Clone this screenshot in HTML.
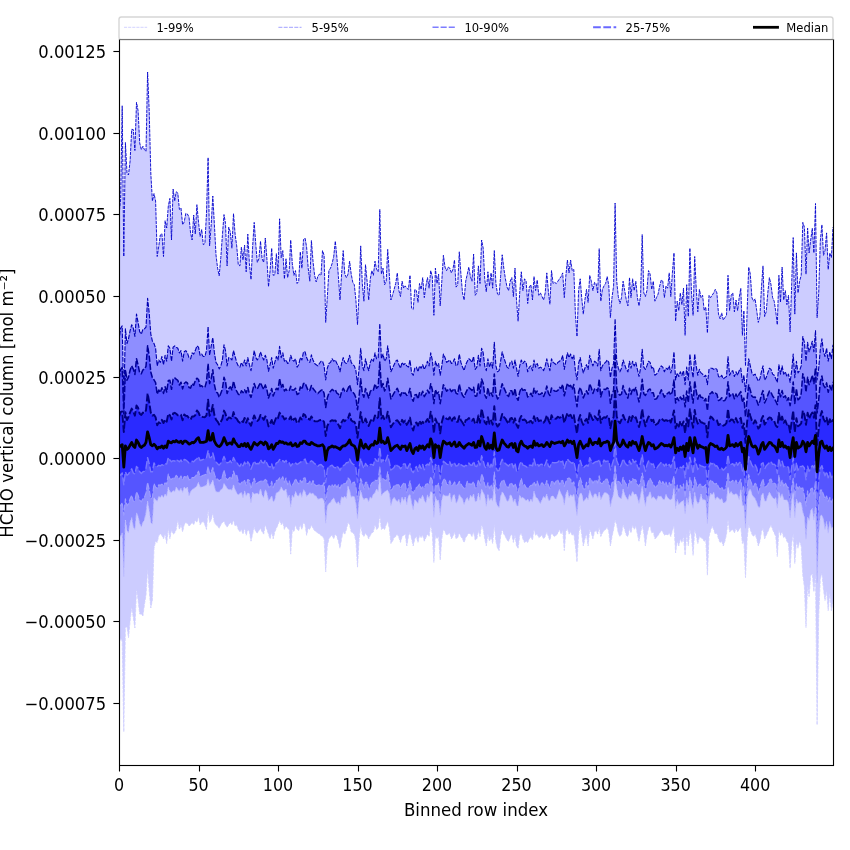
<!DOCTYPE html>
<html lang="en"><head><meta charset="utf-8"><title>HCHO vertical column percentiles</title>
<style>html,body{margin:0;padding:0;background:#fff;width:850px;height:850px;overflow:hidden}svg text{white-space:pre}</style>
</head><body>
<svg width="850" height="850" viewBox="0 0 850 850" style="display:block">
<rect width="850" height="850" fill="#fff"/>
<defs><clipPath id="c"><rect x="119.5" y="39.5" width="714.00" height="726.00"/></clipPath></defs>
<g clip-path="url(#c)" fill="none" stroke-linejoin="round">
<polygon points="119.0,215.0 120.6,200.0 122.2,105.8 123.8,256.5 125.4,142.5 127.0,173.0 128.5,175.0 130.1,161.0 131.7,129.3 133.3,129.6 134.9,150.5 136.5,102.4 138.1,110.8 139.7,143.0 141.3,149.5 142.9,146.3 144.4,149.5 146.0,151.4 147.6,72.0 149.2,111.0 150.8,173.0 152.4,201.0 154.0,193.6 155.6,201.0 157.2,256.5 158.8,246.0 160.3,235.0 161.9,233.6 163.5,256.5 165.1,220.7 166.7,228.0 168.3,206.0 169.9,198.4 171.5,240.0 173.1,189.0 174.7,201.0 176.2,191.8 177.8,193.0 179.4,209.4 181.0,208.0 182.6,224.7 184.2,222.0 185.8,213.4 187.4,214.0 189.0,217.0 190.6,233.0 192.1,240.0 193.7,215.0 195.3,234.0 196.9,204.7 198.5,222.0 200.1,236.5 201.7,229.4 203.3,244.7 204.9,243.5 206.5,213.0 208.1,157.6 209.6,245.9 211.2,224.7 212.8,196.0 214.4,224.7 216.0,255.0 217.6,268.2 219.2,275.8 220.8,257.6 222.4,235.3 224.0,214.6 225.5,223.5 227.1,265.9 228.7,227.1 230.3,231.8 231.9,248.2 233.5,213.6 235.1,234.1 236.7,245.9 238.3,264.7 239.9,265.9 241.4,247.1 243.0,260.0 244.6,245.2 246.2,271.8 247.8,234.1 249.4,263.5 251.0,279.5 252.6,247.1 254.2,222.4 255.8,244.7 257.3,262.4 258.9,258.8 260.5,241.2 262.1,258.8 263.7,262.4 265.3,238.1 266.9,258.8 268.5,286.6 270.1,270.6 271.7,248.2 273.2,275.3 274.8,274.8 276.4,253.6 278.0,274.1 279.6,218.8 281.2,257.6 282.8,250.6 284.4,278.8 286.0,258.8 287.6,277.6 289.2,270.6 290.7,240.0 292.3,263.5 293.9,275.3 295.5,270.6 297.1,283.5 298.7,281.2 300.3,251.8 301.9,268.2 303.5,239.5 305.1,238.1 306.6,247.1 308.2,268.2 309.8,281.2 311.4,240.5 313.0,261.2 314.6,275.3 316.2,281.9 317.8,276.5 319.4,274.1 321.0,275.3 322.5,250.6 324.1,255.3 325.7,322.4 327.3,297.6 328.9,270.6 330.5,268.2 332.1,263.5 333.7,256.5 335.3,241.2 336.9,257.6 338.4,276.5 340.0,300.0 341.6,274.1 343.2,250.6 344.8,274.1 346.4,277.6 348.0,274.1 349.6,261.2 351.2,274.1 352.8,282.4 354.3,284.7 355.9,300.0 357.5,324.7 359.1,292.9 360.7,245.9 362.3,283.5 363.9,301.2 365.5,264.7 367.1,281.2 368.7,300.0 370.3,278.8 371.8,270.6 373.4,275.3 375.0,261.2 376.6,269.4 378.2,271.8 379.8,209.4 381.4,274.1 383.0,268.2 384.6,284.7 386.2,281.2 387.7,249.4 389.3,274.1 390.9,300.0 392.5,295.3 394.1,289.4 395.7,283.5 397.3,272.9 398.9,290.6 400.5,296.5 402.1,281.2 403.6,288.2 405.2,285.9 406.8,288.2 408.4,289.4 410.0,275.3 411.6,308.2 413.2,309.4 414.8,289.4 416.4,290.6 418.0,302.4 419.5,283.5 421.1,289.4 422.7,277.6 424.3,297.6 425.9,285.9 427.5,277.6 429.1,288.2 430.7,270.6 432.3,276.5 433.9,315.3 435.4,268.2 437.0,283.5 438.6,274.1 440.2,305.9 441.8,281.2 443.4,255.3 445.0,267.1 446.6,270.6 448.2,267.1 449.8,268.2 451.4,272.9 452.9,269.4 454.5,260.0 456.1,287.1 457.7,284.7 459.3,251.8 460.9,274.1 462.5,292.9 464.1,300.0 465.7,281.2 467.3,274.1 468.8,267.1 470.4,276.5 472.0,281.2 473.6,254.1 475.2,295.3 476.8,292.9 478.4,265.9 480.0,283.5 481.6,240.0 483.2,248.2 484.7,278.8 486.3,291.8 487.9,271.8 489.5,285.9 491.1,272.9 492.7,288.2 494.3,250.6 495.9,283.5 497.5,294.1 499.1,295.3 500.6,276.5 502.2,254.8 503.8,268.2 505.4,278.8 507.0,287.1 508.6,290.6 510.2,281.2 511.8,277.6 513.4,296.5 515.0,268.2 516.5,300.0 518.1,321.2 519.7,292.9 521.3,271.8 522.9,290.6 524.5,278.8 526.1,281.2 527.7,303.5 529.3,287.1 530.9,284.7 532.5,300.0 534.0,276.5 535.6,290.6 537.2,280.0 538.8,295.3 540.4,292.9 542.0,296.5 543.6,300.0 545.2,292.9 546.8,272.9 548.4,291.8 549.9,304.2 551.5,270.6 553.1,283.5 554.7,282.4 556.3,283.5 557.9,281.2 559.5,278.8 561.1,276.5 562.7,272.9 564.3,297.6 565.8,276.5 567.4,260.0 569.0,272.9 570.6,260.0 572.2,270.6 573.8,269.4 575.4,314.1 577.0,336.5 578.6,290.6 580.2,278.8 581.7,297.6 583.3,314.1 584.9,300.0 586.5,289.4 588.1,302.4 589.7,275.3 591.3,281.2 592.9,290.6 594.5,282.4 596.1,283.5 597.7,292.9 599.2,248.7 600.8,301.2 602.4,289.4 604.0,285.9 605.6,283.5 607.2,276.5 608.8,285.9 610.4,317.6 612.0,297.6 613.6,285.9 615.1,203.1 616.7,281.2 618.3,296.5 619.9,303.5 621.5,297.6 623.1,281.2 624.7,290.6 626.3,300.0 627.9,305.9 629.5,277.6 631.0,297.6 632.6,278.8 634.2,290.6 635.8,281.2 637.4,297.6 639.0,305.9 640.6,295.3 642.2,234.6 643.8,292.9 645.4,296.5 646.9,290.6 648.5,270.6 650.1,274.1 651.7,289.4 653.3,281.2 654.9,301.2 656.5,297.6 658.1,294.1 659.7,285.9 661.3,280.0 662.8,281.2 664.4,297.6 666.0,285.9 667.6,288.2 669.2,272.9 670.8,296.5 672.4,272.9 674.0,252.9 675.6,321.2 677.2,301.2 678.8,310.6 680.3,292.9 681.9,304.7 683.5,288.2 685.1,335.3 686.7,284.7 688.3,316.5 689.9,248.2 691.5,292.9 693.1,315.3 694.7,256.5 696.2,288.2 697.8,311.8 699.4,289.4 701.0,297.6 702.6,295.3 704.2,310.6 705.8,307.1 707.4,332.9 709.0,295.3 710.6,297.6 712.1,295.3 713.7,292.9 715.3,289.4 716.9,292.9 718.5,314.1 720.1,318.8 721.7,312.9 723.3,320.0 724.9,317.6 726.5,315.3 728.0,275.3 729.6,310.6 731.2,295.3 732.8,292.9 734.4,311.8 736.0,300.0 737.6,310.6 739.2,297.6 740.8,288.2 742.4,335.3 743.9,310.6 745.5,365.9 747.1,311.8 748.7,267.1 750.3,274.1 751.9,297.6 753.5,301.2 755.1,298.8 756.7,310.6 758.3,322.4 759.9,316.5 761.4,288.2 763.0,265.9 764.6,316.5 766.2,311.8 767.8,292.9 769.4,277.6 771.0,284.7 772.6,297.6 774.2,301.2 775.8,311.8 777.3,324.7 778.9,275.3 780.5,302.4 782.1,267.1 783.7,300.0 785.3,290.6 786.9,304.7 788.5,295.3 790.1,331.8 791.7,283.5 793.2,237.6 794.8,314.1 796.4,252.9 798.0,292.9 799.6,281.2 801.2,275.3 802.8,222.4 804.4,227.1 806.0,274.1 807.6,228.2 809.1,252.9 810.7,240.0 812.3,228.2 813.9,252.9 815.5,203.5 817.1,317.6 818.7,292.9 820.3,241.2 821.9,224.7 823.5,255.3 825.0,250.6 826.6,232.9 828.2,269.4 829.8,252.9 831.4,257.6 833.0,227.1 833.0,600.9 831.4,610.6 829.8,592.9 828.2,610.6 826.6,590.6 825.0,600.5 823.5,589.4 821.9,572.9 820.3,578.8 818.7,616.0 817.1,724.9 815.5,575.1 813.9,591.8 812.3,574.1 810.7,575.1 809.1,596.5 807.6,584.9 806.0,627.5 804.4,587.1 802.8,575.1 801.2,545.9 799.6,541.2 798.0,548.2 796.4,541.2 794.8,563.5 793.2,534.1 791.7,543.5 790.1,568.2 788.5,543.5 786.9,541.2 785.3,536.5 783.7,537.6 782.1,531.8 780.5,535.3 778.9,529.4 777.3,556.5 775.8,536.5 774.2,532.9 772.6,529.4 771.0,524.7 769.4,528.2 767.8,531.8 766.2,535.3 764.6,538.8 763.0,528.2 761.4,531.8 759.9,541.2 758.3,545.9 756.7,538.8 755.1,534.1 753.5,536.5 751.9,534.1 750.3,529.4 748.7,524.7 747.1,538.8 745.5,577.6 743.9,541.2 742.4,543.5 740.8,527.1 739.2,529.4 737.6,531.8 736.0,528.2 734.4,532.9 732.8,529.4 731.2,530.6 729.6,531.8 728.0,520.0 726.5,534.1 724.9,541.2 723.3,545.9 721.7,541.2 720.1,542.4 718.5,538.8 716.9,532.9 715.3,534.1 713.7,529.4 712.1,525.9 710.6,530.6 709.0,536.5 707.4,575.1 705.8,540.0 704.2,541.2 702.6,538.8 701.0,537.6 699.4,536.5 697.8,543.5 696.2,535.3 694.7,529.4 693.1,555.3 691.5,536.5 689.9,529.4 688.3,545.9 686.7,534.1 685.1,555.3 683.5,536.5 681.9,542.4 680.3,538.8 678.8,545.9 677.2,541.2 675.6,552.9 674.0,525.9 672.4,530.6 670.8,536.5 669.2,532.9 667.6,535.3 666.0,534.1 664.4,535.3 662.8,531.8 661.3,530.6 659.7,532.9 658.1,535.3 656.5,537.6 654.9,538.8 653.3,531.8 651.7,532.9 650.1,525.9 648.5,528.2 646.9,535.3 645.4,545.9 643.8,532.9 642.2,524.7 640.6,532.9 639.0,541.2 637.4,534.1 635.8,525.9 634.2,529.4 632.6,524.7 631.0,532.9 629.5,528.2 627.9,536.5 626.3,535.3 624.7,529.4 623.1,524.7 621.5,534.1 619.9,536.5 618.3,532.9 616.7,524.7 615.1,520.0 613.6,529.4 612.0,536.5 610.4,545.9 608.8,531.8 607.2,527.1 605.6,529.4 604.0,530.6 602.4,532.9 600.8,536.5 599.2,527.1 597.7,534.1 596.1,530.6 594.5,531.8 592.9,538.8 591.3,532.9 589.7,529.4 588.1,545.9 586.5,534.1 584.9,538.8 583.3,545.9 581.7,534.1 580.2,524.7 578.6,534.1 577.0,561.9 575.4,545.9 573.8,534.1 572.2,535.3 570.6,531.8 569.0,534.1 567.4,528.2 565.8,531.8 564.3,550.6 562.7,530.6 561.1,534.1 559.5,529.4 557.9,532.9 556.3,535.3 554.7,536.5 553.1,535.3 551.5,532.9 549.9,540.0 548.4,536.5 546.8,531.8 545.2,536.5 543.6,538.8 542.0,535.3 540.4,536.5 538.8,537.6 537.2,534.1 535.6,535.3 534.0,529.4 532.5,540.0 530.9,536.5 529.3,538.8 527.7,542.4 526.1,541.2 524.5,542.4 522.9,538.8 521.3,532.9 519.7,535.3 518.1,548.2 516.5,545.9 515.0,535.3 513.4,542.4 511.8,534.1 510.2,536.5 508.6,541.2 507.0,540.0 505.4,536.5 503.8,534.1 502.2,529.4 500.6,536.5 499.1,550.6 497.5,548.2 495.9,541.2 494.3,524.7 492.7,543.5 491.1,536.5 489.5,541.2 487.9,534.1 486.3,545.9 484.7,538.8 483.2,529.4 481.6,524.7 480.0,536.5 478.4,530.6 476.8,538.8 475.2,540.0 473.6,531.8 472.0,536.5 470.4,534.1 468.8,532.9 467.3,535.3 465.7,537.6 464.1,542.4 462.5,538.8 460.9,536.5 459.3,532.9 457.7,537.6 456.1,538.8 454.5,531.8 452.9,536.5 451.4,538.8 449.8,532.9 448.2,534.1 446.6,535.3 445.0,531.8 443.4,529.4 441.8,538.8 440.2,560.0 438.6,536.5 437.0,538.8 435.4,535.3 433.9,562.4 432.3,534.1 430.7,524.7 429.1,536.5 427.5,534.1 425.9,537.6 424.3,541.2 422.7,535.3 421.1,537.6 419.5,535.3 418.0,542.4 416.4,536.5 414.8,538.8 413.2,545.9 411.6,538.8 410.0,531.8 408.4,536.5 406.8,545.9 405.2,534.1 403.6,535.3 402.1,536.5 400.5,542.4 398.9,537.6 397.3,534.1 395.7,536.5 394.1,537.6 392.5,541.2 390.9,543.5 389.3,528.2 387.7,521.2 386.2,524.7 384.6,529.4 383.0,528.2 381.4,529.4 379.8,515.3 378.2,528.2 376.6,529.4 375.0,524.7 373.4,531.8 371.8,532.9 370.3,535.3 368.7,538.8 367.1,535.3 365.5,532.9 363.9,536.5 362.3,534.1 360.7,524.7 359.1,538.8 357.5,567.1 355.9,541.2 354.3,534.1 352.8,532.9 351.2,531.8 349.6,524.7 348.0,522.4 346.4,529.4 344.8,534.1 343.2,531.8 341.6,538.8 340.0,548.2 338.4,541.2 336.9,536.5 335.3,534.1 333.7,538.8 332.1,535.3 330.5,536.5 328.9,538.8 327.3,545.9 325.7,571.8 324.1,538.8 322.5,536.5 321.0,535.3 319.4,534.1 317.8,532.9 316.2,531.8 314.6,530.6 313.0,528.2 311.4,524.7 309.8,529.4 308.2,528.2 306.6,535.3 305.1,524.7 303.5,522.4 301.9,529.4 300.3,524.7 298.7,530.6 297.1,529.4 295.5,524.7 293.9,531.8 292.3,529.4 290.7,554.1 289.2,529.4 287.6,528.2 286.0,525.9 284.4,529.4 282.8,522.4 281.2,524.7 279.6,520.0 278.0,524.7 276.4,528.2 274.8,531.8 273.2,538.8 271.7,531.8 270.1,538.8 268.5,534.1 266.9,529.4 265.3,524.7 263.7,534.1 262.1,531.8 260.5,528.2 258.9,530.6 257.3,532.9 255.8,531.8 254.2,527.1 252.6,534.1 251.0,541.2 249.4,531.8 247.8,529.4 246.2,535.3 244.6,528.2 243.0,534.1 241.4,529.4 239.9,531.8 238.3,529.4 236.7,524.7 235.1,525.9 233.5,520.0 231.9,524.7 230.3,522.4 228.7,524.7 227.1,527.1 225.5,524.7 224.0,521.2 222.4,522.4 220.8,524.7 219.2,528.2 217.6,525.9 216.0,524.7 214.4,522.4 212.8,512.9 211.2,520.0 209.6,522.4 208.1,509.4 206.5,529.4 204.9,524.7 203.3,521.2 201.7,522.4 200.1,524.7 198.5,516.5 196.9,522.4 195.3,520.0 193.7,524.7 192.1,522.4 190.6,524.7 189.0,525.9 187.4,523.5 185.8,522.4 184.2,524.7 182.6,531.8 181.0,524.7 179.4,529.4 177.8,520.0 176.2,529.4 174.7,532.9 173.1,534.1 171.5,529.4 169.9,538.8 168.3,528.2 166.7,543.5 165.1,534.1 163.5,538.8 161.9,535.3 160.3,534.1 158.8,535.3 157.2,542.4 155.6,541.2 154.0,548.2 152.4,600.0 150.8,608.0 149.2,590.6 147.6,569.0 146.0,595.0 144.4,604.7 142.9,616.0 141.3,614.0 139.7,614.0 138.1,600.0 136.5,589.4 134.9,628.0 133.3,617.6 131.7,607.0 130.1,621.0 128.5,637.6 127.0,627.0 125.4,627.0 123.8,731.8 122.2,641.0 120.6,638.0 119.0,645.0" fill="#00f" fill-opacity="0.2" stroke="none"/>
<polygon points="119.0,341.2 120.6,328.2 122.2,325.9 123.8,404.0 125.4,328.9 127.0,343.5 128.5,338.8 130.1,330.6 131.7,324.7 133.3,328.2 134.9,336.5 136.5,314.1 138.1,322.4 139.7,331.8 141.3,334.1 142.9,329.4 144.4,328.9 146.0,327.1 147.6,298.4 149.2,312.9 150.8,334.1 152.4,341.2 154.0,343.5 155.6,348.2 157.2,365.9 158.8,360.0 160.3,362.4 161.9,356.5 163.5,364.7 165.1,355.3 166.7,361.2 168.3,345.9 169.9,348.2 171.5,361.2 173.1,347.1 174.7,345.9 176.2,347.1 177.8,348.2 179.4,352.9 181.0,350.6 182.6,361.2 184.2,351.8 185.8,350.6 187.4,352.9 189.0,357.6 190.6,358.8 192.1,352.9 193.7,354.1 195.3,350.6 196.9,345.9 198.5,347.1 200.1,355.3 201.7,354.1 203.3,356.5 204.9,356.5 206.5,350.6 208.1,326.6 209.6,355.3 211.2,345.9 212.8,337.6 214.4,352.9 216.0,362.4 217.6,364.7 219.2,368.9 220.8,365.9 222.4,360.0 224.0,344.7 225.5,350.6 227.1,365.9 228.7,357.6 230.3,358.1 231.9,360.0 233.5,350.6 235.1,356.5 236.7,362.4 238.3,365.9 239.9,367.1 241.4,362.4 243.0,365.9 244.6,360.0 246.2,365.9 247.8,357.6 249.4,364.7 251.0,370.6 252.6,361.2 254.2,350.6 255.8,357.6 257.3,360.0 258.9,357.6 260.5,351.8 262.1,356.5 263.7,360.0 265.3,355.3 266.9,360.0 268.5,371.3 270.1,364.7 271.7,357.6 273.2,368.2 274.8,362.4 276.4,356.5 278.0,360.0 279.6,346.4 281.2,357.6 282.8,352.9 284.4,361.2 286.0,360.0 287.6,363.5 289.2,362.4 290.7,355.3 292.3,360.0 293.9,361.2 295.5,358.8 297.1,367.1 298.7,364.7 300.3,357.6 301.9,360.0 303.5,351.8 305.1,351.8 306.6,357.6 308.2,361.2 309.8,362.4 311.4,354.8 313.0,360.0 314.6,363.5 316.2,364.7 317.8,365.9 319.4,363.5 321.0,361.2 322.5,361.2 324.1,365.9 325.7,380.0 327.3,368.2 328.9,363.5 330.5,362.4 332.1,358.8 333.7,361.2 335.3,360.0 336.9,363.5 338.4,365.9 340.0,371.8 341.6,363.5 343.2,357.6 344.8,362.4 346.4,363.5 348.0,361.2 349.6,355.3 351.2,362.4 352.8,364.7 354.3,365.9 355.9,370.6 357.5,384.7 359.1,368.2 360.7,348.2 362.3,365.9 363.9,370.6 365.5,358.8 367.1,365.9 368.7,370.6 370.3,362.4 371.8,358.8 373.4,361.2 375.0,352.9 376.6,358.8 378.2,357.6 379.8,323.5 381.4,358.8 383.0,354.1 384.6,361.2 386.2,358.8 387.7,345.9 389.3,358.8 390.9,371.8 392.5,368.2 394.1,364.7 395.7,361.2 397.3,360.0 398.9,364.7 400.5,368.2 402.1,362.4 403.6,364.7 405.2,363.5 406.8,365.9 408.4,367.1 410.0,360.0 411.6,372.9 413.2,375.3 414.8,368.2 416.4,367.1 418.0,371.8 419.5,365.9 421.1,368.2 422.7,364.7 424.3,369.4 425.9,365.9 427.5,361.2 429.1,365.9 430.7,352.9 432.3,360.0 433.9,375.3 435.4,361.2 437.0,365.9 438.6,363.5 440.2,375.3 441.8,365.9 443.4,354.1 445.0,357.6 446.6,362.4 448.2,361.2 449.8,360.0 451.4,363.5 452.9,362.4 454.5,358.8 456.1,365.9 457.7,364.7 459.3,354.1 460.9,362.4 462.5,367.1 464.1,370.6 465.7,364.7 467.3,361.2 468.8,358.8 470.4,360.0 472.0,362.4 473.6,356.5 475.2,369.4 476.8,367.1 478.4,355.3 480.0,365.9 481.6,348.2 483.2,352.9 484.7,365.9 486.3,370.6 487.9,358.8 489.5,367.1 491.1,362.4 492.7,368.2 494.3,342.4 495.9,365.9 497.5,371.8 499.1,370.6 500.6,361.2 502.2,351.8 503.8,357.6 505.4,362.4 507.0,367.1 508.6,368.2 510.2,362.4 511.8,361.2 513.4,368.2 515.0,360.0 516.5,368.2 518.1,376.5 519.7,365.9 521.3,360.0 522.9,363.5 524.5,361.2 526.1,362.4 527.7,371.8 529.3,367.1 530.9,365.9 532.5,370.6 534.0,360.0 535.6,367.1 537.2,363.5 538.8,368.2 540.4,367.1 542.0,368.2 543.6,370.6 545.2,365.9 546.8,358.8 548.4,365.9 549.9,370.6 551.5,358.8 553.1,362.4 554.7,363.5 556.3,364.7 557.9,362.4 559.5,361.2 561.1,360.0 562.7,355.3 564.3,369.4 565.8,361.2 567.4,352.9 569.0,357.6 570.6,354.1 572.2,358.8 573.8,355.3 575.4,370.6 577.0,380.0 578.6,363.5 580.2,357.6 581.7,365.9 583.3,372.9 584.9,368.2 586.5,364.7 588.1,369.4 589.7,355.3 591.3,361.2 592.9,365.9 594.5,361.2 596.1,362.4 597.7,365.9 599.2,349.4 600.8,370.6 602.4,365.9 604.0,363.5 605.6,362.4 607.2,360.0 608.8,362.4 610.4,377.6 612.0,368.2 613.6,363.5 615.1,318.8 616.7,361.2 618.3,368.2 619.9,371.8 621.5,368.2 623.1,360.0 624.7,364.7 626.3,369.4 627.9,371.8 629.5,361.2 631.0,368.2 632.6,361.2 634.2,365.9 635.8,362.4 637.4,369.4 639.0,376.5 640.6,368.2 642.2,349.4 643.8,367.1 645.4,369.4 646.9,365.9 648.5,361.2 650.1,362.4 651.7,368.2 653.3,367.1 654.9,375.3 656.5,374.1 658.1,371.8 659.7,368.2 661.3,365.9 662.8,367.1 664.4,371.8 666.0,368.2 667.6,369.4 669.2,365.9 670.8,372.9 672.4,365.9 674.0,351.8 675.6,380.0 677.2,372.9 678.8,376.5 680.3,371.8 681.9,375.3 683.5,370.6 685.1,384.7 686.7,367.1 688.3,380.0 689.9,354.1 691.5,368.2 693.1,377.6 694.7,354.1 696.2,365.9 697.8,375.3 699.4,369.4 701.0,372.9 702.6,374.1 704.2,376.5 705.8,375.3 707.4,384.7 709.0,369.4 710.6,368.2 712.1,368.2 713.7,369.4 715.3,368.2 716.9,369.4 718.5,376.5 720.1,377.6 721.7,375.3 723.3,378.8 724.9,377.6 726.5,376.5 728.0,356.5 729.6,375.3 731.2,371.8 732.8,370.6 734.4,376.5 736.0,371.8 737.6,375.3 739.2,370.6 740.8,368.2 742.4,382.4 743.9,375.3 745.5,391.8 747.1,375.3 748.7,358.8 750.3,365.9 751.9,372.9 753.5,375.3 755.1,374.1 756.7,377.6 758.3,381.2 759.9,378.8 761.4,371.8 763.0,365.9 764.6,380.0 766.2,377.6 767.8,372.9 769.4,368.2 771.0,369.4 772.6,374.1 774.2,375.3 775.8,378.8 777.3,382.4 778.9,364.7 780.5,374.1 782.1,365.9 783.7,374.1 785.3,371.8 786.9,376.5 788.5,374.1 790.1,382.4 791.7,370.6 793.2,354.1 794.8,377.6 796.4,361.2 798.0,372.9 799.6,370.6 801.2,365.9 802.8,336.5 804.4,342.4 806.0,361.2 807.6,342.4 809.1,351.8 810.7,347.1 812.3,341.2 813.9,351.8 815.5,330.6 817.1,380.0 818.7,368.2 820.3,349.4 821.9,338.8 823.5,351.8 825.0,356.5 826.6,348.2 828.2,361.2 829.8,351.8 831.4,358.8 833.0,344.7 833.0,526.7 831.4,528.4 829.8,521.5 828.2,533.1 826.6,521.5 825.0,529.4 823.5,519.8 821.9,515.0 820.3,516.1 818.7,534.9 817.1,583.2 815.5,506.6 813.9,520.1 812.3,508.5 810.7,510.6 809.1,520.4 807.6,516.8 806.0,539.5 804.4,517.1 802.8,512.3 801.2,503.0 799.6,502.1 798.0,503.6 796.4,499.2 794.8,517.6 793.2,492.4 791.7,500.8 790.1,518.0 788.5,502.9 786.9,500.1 785.3,499.9 783.7,499.5 782.1,493.8 780.5,498.1 778.9,491.8 777.3,508.4 775.8,497.6 774.2,499.1 772.6,497.7 771.0,495.0 769.4,492.3 767.8,496.0 766.2,501.1 764.6,501.1 763.0,493.1 761.4,495.5 759.9,507.5 758.3,507.1 756.7,502.4 755.1,498.4 753.5,496.9 751.9,494.3 750.3,488.9 748.7,491.4 747.1,498.8 745.5,528.7 743.9,505.5 742.4,505.6 740.8,489.3 739.2,499.6 737.6,495.3 736.0,493.4 734.4,494.8 732.8,494.4 731.2,491.4 729.6,494.1 728.0,487.0 726.5,500.8 724.9,502.7 723.3,503.1 721.7,498.6 720.1,499.8 718.5,498.1 716.9,496.7 715.3,499.9 713.7,492.3 712.1,494.9 710.6,493.2 709.0,499.6 707.4,524.1 705.8,500.4 704.2,499.8 702.6,499.8 701.0,494.0 699.4,501.5 697.8,503.9 696.2,499.8 694.7,492.4 693.1,508.3 691.5,502.1 689.9,491.0 688.3,504.9 686.7,497.9 685.1,513.7 683.5,500.3 681.9,501.5 680.3,502.8 678.8,504.7 677.2,499.5 675.6,508.7 674.0,488.1 672.4,498.2 670.8,499.7 669.2,499.4 667.6,497.6 666.0,494.4 664.4,499.7 662.8,499.3 661.3,496.2 659.7,496.6 658.1,495.9 656.5,500.5 654.9,498.3 653.3,496.8 651.7,498.6 650.1,491.4 648.5,496.2 646.9,496.7 645.4,506.3 643.8,496.9 642.2,486.5 640.6,495.8 639.0,503.5 637.4,497.5 635.8,493.7 634.2,494.7 632.6,491.2 631.0,496.5 629.5,494.6 627.9,500.3 626.3,497.5 624.7,494.8 623.1,489.1 621.5,498.7 619.9,498.1 618.3,496.3 616.7,488.1 615.1,478.4 613.6,493.9 612.0,499.3 610.4,507.0 608.8,495.0 607.2,493.4 605.6,492.8 604.0,492.9 602.4,496.4 600.8,499.9 599.2,492.1 597.7,498.1 596.1,494.1 594.5,493.9 592.9,498.3 591.3,494.5 589.7,490.5 588.1,499.8 586.5,497.3 584.9,500.0 583.3,501.4 581.7,493.4 580.2,493.4 578.6,498.2 577.0,515.6 575.4,503.8 573.8,494.0 572.2,496.7 570.6,494.6 569.0,497.7 567.4,490.1 565.8,494.9 564.3,505.1 562.7,496.5 561.1,494.0 559.5,489.6 557.9,494.1 556.3,499.3 554.7,498.6 553.1,495.9 551.5,495.9 549.9,500.5 548.4,500.2 546.8,494.0 545.2,498.5 543.6,496.6 542.0,499.7 540.4,503.7 538.8,501.0 537.2,498.0 535.6,496.9 534.0,491.2 532.5,502.1 530.9,499.1 529.3,502.2 527.7,499.1 526.1,500.8 524.5,499.1 522.9,497.2 521.3,498.3 519.7,495.0 518.1,506.3 516.5,505.3 515.0,499.0 513.4,502.4 511.8,496.0 510.2,495.0 508.6,500.9 507.0,501.2 505.4,497.5 503.8,493.9 502.2,491.9 500.6,496.4 499.1,507.6 497.5,505.8 495.9,501.8 494.3,484.8 492.7,501.2 491.1,498.1 489.5,500.9 487.9,494.6 486.3,506.3 484.7,495.8 483.2,492.5 481.6,489.4 480.0,500.2 478.4,493.1 476.8,501.1 475.2,501.7 473.6,494.1 472.0,497.5 470.4,495.3 468.8,500.9 467.3,497.6 465.7,499.9 464.1,504.4 462.5,499.0 460.9,497.0 459.3,494.7 457.7,500.8 456.1,503.5 454.5,494.8 452.9,495.5 451.4,502.2 449.8,493.0 448.2,496.1 446.6,496.0 445.0,496.0 443.4,494.4 441.8,500.1 440.2,515.2 438.6,500.4 437.0,500.8 435.4,496.6 433.9,517.3 432.3,492.4 430.7,491.8 429.1,498.6 427.5,494.9 425.9,503.1 424.3,500.5 422.7,495.1 421.1,498.9 419.5,497.8 418.0,503.4 416.4,501.6 414.8,499.3 413.2,509.9 411.6,502.9 410.0,494.7 408.4,495.9 406.8,504.7 405.2,497.0 403.6,501.1 402.1,497.0 400.5,504.5 398.9,499.3 397.3,501.8 395.7,499.9 394.1,497.2 392.5,499.7 390.9,505.6 389.3,493.9 387.7,490.1 386.2,491.0 384.6,492.0 383.0,493.2 381.4,495.8 379.8,476.7 378.2,491.6 376.6,488.8 375.0,492.9 373.4,494.0 371.8,498.4 370.3,496.9 368.7,502.0 367.1,498.3 365.5,497.9 363.9,499.8 362.3,496.8 360.7,490.4 359.1,500.6 357.5,518.9 355.9,503.4 354.3,496.4 352.8,496.2 351.2,497.2 349.6,490.6 348.0,486.3 346.4,498.6 344.8,496.0 343.2,498.3 341.6,496.6 340.0,505.1 338.4,501.5 336.9,503.9 335.3,501.6 333.7,498.0 332.1,499.5 330.5,502.6 328.9,503.3 327.3,506.5 325.7,523.2 324.1,501.2 322.5,498.5 321.0,498.0 319.4,498.9 317.8,499.2 316.2,496.0 314.6,495.8 313.0,493.0 311.4,493.9 309.8,492.7 308.2,494.7 306.6,496.5 305.1,491.9 303.5,489.7 301.9,497.4 300.3,492.3 298.7,496.2 297.1,495.2 295.5,491.6 293.9,497.5 292.3,495.4 290.7,507.2 289.2,495.3 287.6,498.1 286.0,489.1 284.4,490.9 282.8,490.0 281.2,486.9 279.6,491.1 278.0,492.3 276.4,492.8 274.8,499.9 273.2,502.1 271.7,495.7 270.1,499.0 268.5,500.7 266.9,493.0 265.3,489.6 263.7,497.7 262.1,495.1 260.5,488.7 258.9,494.4 257.3,493.3 255.8,493.7 254.2,494.1 252.6,492.2 251.0,503.0 249.4,493.8 247.8,492.7 246.2,496.2 244.6,490.9 243.0,498.1 241.4,492.2 239.9,493.6 238.3,494.9 236.7,492.9 235.1,489.8 233.5,484.9 231.9,490.2 230.3,489.5 228.7,489.6 227.1,488.6 225.5,485.5 224.0,483.6 222.4,489.0 220.8,489.7 219.2,492.1 217.6,492.1 216.0,491.8 214.4,487.1 212.8,480.0 211.2,483.5 209.6,485.9 208.1,478.8 206.5,485.3 204.9,485.9 203.3,486.5 201.7,487.1 200.1,487.1 198.5,482.4 196.9,485.9 195.3,487.6 193.7,488.8 192.1,489.4 190.6,491.8 189.0,495.9 187.4,487.1 185.8,488.8 184.2,487.1 182.6,492.4 181.0,488.2 179.4,491.2 177.8,489.4 176.2,487.1 174.7,491.8 173.1,490.6 171.5,492.4 169.9,491.8 168.3,487.1 166.7,496.5 165.1,494.1 163.5,497.6 161.9,495.3 160.3,497.6 158.8,496.5 157.2,501.2 155.6,500.0 154.0,497.6 152.4,524.1 150.8,522.4 149.2,510.6 147.6,501.2 146.0,512.9 144.4,520.0 142.9,522.4 141.3,527.1 139.7,523.5 138.1,516.5 136.5,512.9 134.9,529.4 133.3,527.1 131.7,517.6 130.1,522.4 128.5,532.9 127.0,530.6 125.4,520.0 123.8,576.5 122.2,532.9 120.6,536.5 119.0,534.1" fill="#00f" fill-opacity="0.3" stroke="none"/>
<polygon points="119.0,379.5 120.6,369.7 122.2,367.5 123.8,414.0 125.4,369.7 127.0,380.3 128.5,377.1 130.1,370.3 131.7,365.9 133.3,369.1 134.9,374.4 136.5,358.8 138.1,365.0 139.7,372.9 141.3,373.8 142.9,369.9 144.4,369.2 146.0,366.3 147.6,345.7 149.2,355.8 150.8,372.0 152.4,377.7 154.0,379.8 155.6,382.6 157.2,394.2 158.8,390.0 160.3,392.6 161.9,387.7 163.5,393.4 165.1,386.8 166.7,391.9 168.3,380.6 169.9,380.3 171.5,389.3 173.1,379.4 174.7,377.8 176.2,379.1 177.8,380.3 179.4,385.0 181.0,382.2 182.6,388.9 184.2,383.5 185.8,382.0 187.4,383.0 189.0,387.5 190.6,388.1 192.1,383.6 193.7,385.2 195.3,380.7 196.9,378.2 198.5,379.5 200.1,386.4 201.7,385.8 203.3,387.3 204.9,387.4 206.5,381.5 208.1,363.6 209.6,383.6 211.2,378.4 212.8,369.8 214.4,384.6 216.0,391.9 217.6,393.0 219.2,397.4 220.8,393.2 222.4,388.9 224.0,377.3 225.5,381.4 227.1,393.5 228.7,388.8 230.3,386.8 231.9,389.9 233.5,381.2 235.1,387.6 236.7,391.1 238.3,394.2 239.9,394.9 241.4,390.8 243.0,392.6 244.6,389.9 246.2,392.8 247.8,387.5 249.4,393.7 251.0,397.4 252.6,390.8 254.2,383.5 255.8,387.9 257.3,389.1 258.9,385.6 260.5,382.6 262.1,386.3 263.7,389.3 265.3,384.9 266.9,389.5 268.5,398.1 270.1,393.6 271.7,388.6 273.2,396.0 274.8,391.6 276.4,388.4 278.0,389.7 279.6,378.5 281.2,387.2 282.8,384.5 284.4,390.9 286.0,389.1 287.6,391.3 289.2,390.4 290.7,386.3 292.3,390.1 293.9,390.1 295.5,388.2 297.1,394.5 298.7,393.5 300.3,386.9 301.9,389.5 303.5,383.5 305.1,383.2 306.6,386.9 308.2,390.9 309.8,390.5 311.4,385.6 313.0,388.5 314.6,390.4 316.2,392.7 317.8,393.6 319.4,391.8 321.0,390.4 322.5,389.6 324.1,393.4 325.7,407.5 327.3,398.0 328.9,393.1 330.5,391.3 332.1,389.4 333.7,390.6 335.3,389.7 336.9,393.2 338.4,394.1 340.0,397.5 341.6,391.8 343.2,388.2 344.8,391.2 346.4,392.2 348.0,388.6 349.6,384.9 351.2,390.7 352.8,392.1 354.3,393.9 355.9,397.8 357.5,409.7 359.1,396.3 360.7,378.8 362.3,393.2 363.9,397.2 365.5,388.5 367.1,393.3 368.7,397.9 370.3,391.5 371.8,389.6 373.4,390.0 375.0,383.9 376.6,388.3 378.2,386.4 379.8,362.0 381.4,388.0 383.0,383.5 384.6,391.0 386.2,387.5 387.7,378.3 389.3,389.1 390.9,398.9 392.5,395.9 394.1,392.9 395.7,390.4 397.3,388.3 398.9,392.5 400.5,396.0 402.1,391.7 403.6,393.2 405.2,393.0 406.8,395.4 408.4,394.0 410.0,388.4 411.6,397.9 413.2,401.2 414.8,394.9 416.4,394.6 418.0,399.0 419.5,392.7 421.1,395.0 422.7,391.2 424.3,396.6 425.9,393.8 427.5,390.1 429.1,393.1 430.7,383.8 432.3,389.6 433.9,403.6 435.4,389.6 437.0,393.7 438.6,392.1 440.2,403.7 441.8,394.2 443.4,384.7 445.0,387.8 446.6,391.3 448.2,389.5 449.8,388.9 451.4,391.6 452.9,390.1 454.5,388.7 456.1,393.3 457.7,394.0 459.3,384.2 460.9,391.0 462.5,395.2 464.1,397.3 465.7,392.8 467.3,389.7 468.8,387.6 470.4,388.9 472.0,390.5 473.6,387.2 475.2,396.2 476.8,395.9 478.4,383.1 480.0,393.5 481.6,379.1 483.2,383.3 484.7,394.7 486.3,398.2 487.9,387.8 489.5,395.4 491.1,392.9 492.7,396.4 494.3,373.9 495.9,393.7 497.5,398.9 499.1,397.0 500.6,389.8 502.2,383.8 503.8,387.7 505.4,391.1 507.0,395.0 508.6,396.4 510.2,390.7 511.8,390.8 513.4,396.1 515.0,388.6 516.5,397.4 518.1,400.3 519.7,392.0 521.3,387.7 522.9,390.4 524.5,389.7 526.1,390.4 527.7,397.0 529.3,395.7 530.9,393.2 532.5,396.4 534.0,388.2 535.6,393.1 537.2,391.0 538.8,394.4 540.4,394.3 542.0,392.8 543.6,396.5 545.2,392.5 546.8,386.1 548.4,393.1 549.9,395.5 551.5,388.0 553.1,389.8 554.7,391.1 556.3,391.3 557.9,390.3 559.5,387.4 561.1,388.4 562.7,384.4 564.3,395.8 565.8,389.4 567.4,383.3 569.0,386.2 570.6,385.4 572.2,389.5 573.8,384.6 575.4,397.0 577.0,406.7 578.6,392.1 580.2,387.4 581.7,391.8 583.3,397.9 584.9,393.9 586.5,390.8 588.1,394.1 589.7,383.8 591.3,387.7 592.9,393.4 594.5,389.1 596.1,388.6 597.7,391.4 599.2,379.2 600.8,396.9 602.4,391.3 604.0,389.2 605.6,389.5 607.2,387.8 608.8,388.9 610.4,403.3 612.0,394.5 613.6,390.4 615.1,353.0 616.7,388.0 618.3,393.8 619.9,395.2 621.5,394.0 623.1,385.6 624.7,391.2 626.3,394.1 627.9,398.1 629.5,388.3 631.0,394.4 632.6,388.5 634.2,390.9 635.8,387.5 637.4,395.0 639.0,401.9 640.6,393.9 642.2,379.2 643.8,393.7 645.4,395.5 646.9,392.7 648.5,389.6 650.1,389.0 651.7,392.7 653.3,392.7 654.9,399.2 656.5,398.8 658.1,395.9 659.7,393.6 661.3,389.8 662.8,393.1 664.4,397.1 666.0,394.4 667.6,393.4 669.2,392.0 670.8,395.1 672.4,391.5 674.0,380.0 675.6,403.0 677.2,397.7 678.8,400.7 680.3,397.0 681.9,399.5 683.5,395.4 685.1,406.8 686.7,391.1 688.3,402.5 689.9,381.7 691.5,393.1 693.1,403.1 694.7,380.8 696.2,391.0 697.8,399.2 699.4,393.9 701.0,397.3 702.6,397.4 704.2,400.7 705.8,398.5 707.4,410.7 709.0,394.1 710.6,393.6 712.1,391.7 713.7,394.1 715.3,393.2 716.9,394.2 718.5,400.5 720.1,399.8 721.7,397.7 723.3,400.7 724.9,400.4 726.5,397.4 728.0,381.7 729.6,396.6 731.2,394.1 732.8,393.7 734.4,398.8 736.0,394.0 737.6,397.3 739.2,394.0 740.8,391.6 742.4,402.4 743.9,398.1 745.5,416.6 747.1,398.8 748.7,385.0 750.3,390.3 751.9,396.2 753.5,397.3 755.1,396.9 756.7,400.5 758.3,405.1 759.9,400.9 761.4,394.9 763.0,390.6 764.6,403.0 766.2,399.5 767.8,395.1 769.4,391.1 771.0,392.3 772.6,396.0 774.2,398.1 775.8,401.3 777.3,404.6 778.9,389.4 780.5,396.8 782.1,390.6 783.7,397.2 785.3,395.7 786.9,400.4 788.5,397.7 790.1,405.6 791.7,395.4 793.2,381.9 794.8,403.4 796.4,388.6 798.0,399.8 799.6,398.5 801.2,393.5 802.8,373.8 804.4,378.6 806.0,392.1 807.6,377.3 809.1,384.7 810.7,380.9 812.3,375.1 813.9,383.6 815.5,368.0 817.1,413.0 818.7,399.6 820.3,381.7 821.9,376.0 823.5,385.2 825.0,387.6 826.6,382.9 828.2,392.2 829.8,385.5 831.4,390.9 833.0,381.8 833.0,498.6 831.4,502.4 829.8,497.4 828.2,501.5 826.6,496.0 825.0,499.1 823.5,494.8 821.9,490.1 820.3,490.0 818.7,505.0 817.1,537.6 815.5,481.8 813.9,494.1 812.3,488.1 810.7,489.0 809.1,496.6 807.6,490.8 806.0,506.1 804.4,495.6 802.8,487.9 801.2,488.6 799.6,486.2 798.0,489.3 796.4,483.8 794.8,497.3 793.2,478.3 791.7,487.4 790.1,502.7 788.5,488.0 786.9,486.5 785.3,482.6 783.7,486.1 782.1,480.2 780.5,485.6 778.9,475.4 777.3,493.6 775.8,484.1 774.2,483.1 772.6,482.9 771.0,479.0 769.4,479.9 767.8,484.9 766.2,486.7 764.6,486.9 763.0,478.8 761.4,483.2 759.9,487.9 758.3,494.3 756.7,484.9 755.1,483.3 753.5,486.7 751.9,484.3 750.3,480.1 748.7,474.6 747.1,489.6 745.5,515.0 743.9,485.8 742.4,491.3 740.8,479.2 739.2,482.5 737.6,484.1 736.0,480.2 734.4,482.9 732.8,480.4 731.2,481.7 729.6,482.3 728.0,472.2 726.5,484.7 724.9,490.0 723.3,490.3 721.7,486.9 720.1,489.3 718.5,487.0 716.9,483.3 715.3,484.0 713.7,483.5 712.1,480.7 710.6,480.2 709.0,482.9 707.4,506.6 705.8,484.6 704.2,486.1 702.6,487.4 701.0,484.3 699.4,484.3 697.8,487.7 696.2,482.8 694.7,477.3 693.1,493.7 691.5,483.0 689.9,477.6 688.3,489.8 686.7,480.6 685.1,497.8 683.5,483.9 681.9,488.2 680.3,485.3 678.8,491.4 677.2,485.1 675.6,495.9 674.0,476.0 672.4,481.7 670.8,485.4 669.2,482.6 667.6,486.6 666.0,482.1 664.4,484.2 662.8,481.6 661.3,484.7 659.7,480.6 658.1,483.6 656.5,486.7 654.9,487.3 653.3,483.9 651.7,481.5 650.1,478.5 648.5,480.6 646.9,486.1 645.4,491.1 643.8,480.9 642.2,473.1 640.6,481.5 639.0,486.6 637.4,484.7 635.8,479.9 634.2,479.7 632.6,478.7 631.0,483.0 629.5,480.3 627.9,488.1 626.3,484.3 624.7,482.1 623.1,477.4 621.5,485.2 619.9,482.5 618.3,481.3 616.7,480.3 615.1,464.7 613.6,481.8 612.0,482.8 610.4,489.8 608.8,483.6 607.2,479.1 605.6,479.3 604.0,480.8 602.4,483.7 600.8,483.4 599.2,475.9 597.7,482.9 596.1,480.1 594.5,480.8 592.9,483.2 591.3,479.3 589.7,478.2 588.1,488.4 586.5,482.2 584.9,489.1 583.3,488.8 581.7,482.4 580.2,477.8 578.6,484.0 577.0,498.3 575.4,489.3 573.8,481.9 572.2,483.7 570.6,479.3 569.0,477.9 567.4,478.7 565.8,481.8 564.3,486.5 562.7,480.4 561.1,480.9 559.5,484.3 557.9,480.1 556.3,480.3 554.7,484.4 553.1,481.0 551.5,481.7 549.9,488.9 548.4,485.2 546.8,480.5 545.2,486.1 543.6,484.5 542.0,482.7 540.4,485.0 538.8,485.9 537.2,481.1 535.6,485.8 534.0,481.8 532.5,485.3 530.9,485.4 529.3,486.9 527.7,488.0 526.1,487.8 524.5,484.6 522.9,485.6 521.3,478.2 519.7,484.3 518.1,492.7 516.5,487.9 515.0,483.6 513.4,486.7 511.8,483.5 510.2,482.9 508.6,488.0 507.0,486.1 505.4,484.7 503.8,479.8 502.2,480.6 500.6,483.5 499.1,489.8 497.5,490.1 495.9,486.2 494.3,472.0 492.7,490.8 491.1,484.6 489.5,488.8 487.9,482.7 486.3,488.6 484.7,485.0 483.2,477.7 481.6,473.9 480.0,485.2 478.4,479.5 476.8,486.7 475.2,488.2 473.6,481.6 472.0,484.1 470.4,484.1 468.8,483.8 467.3,481.2 465.7,486.9 464.1,488.4 462.5,486.7 460.9,483.9 459.3,481.4 457.7,484.8 456.1,485.0 454.5,481.9 452.9,484.9 451.4,485.1 449.8,480.7 448.2,484.9 446.6,484.2 445.0,478.5 443.4,480.2 441.8,484.4 440.2,496.8 438.6,483.2 437.0,486.9 435.4,484.4 433.9,500.7 432.3,480.8 430.7,476.6 429.1,484.8 427.5,483.7 425.9,484.2 424.3,487.7 422.7,486.8 421.1,488.8 419.5,484.1 418.0,486.4 416.4,487.7 414.8,489.7 413.2,493.5 411.6,490.0 410.0,480.8 408.4,487.1 406.8,492.8 405.2,482.9 403.6,483.3 402.1,485.3 400.5,488.9 398.9,484.9 397.3,484.8 395.7,485.1 394.1,485.4 392.5,489.0 390.9,490.4 389.3,481.5 387.7,471.8 386.2,480.7 384.6,479.9 383.0,478.6 381.4,480.9 379.8,467.0 378.2,480.1 376.6,480.6 375.0,480.2 373.4,481.9 371.8,483.1 370.3,486.3 368.7,489.2 367.1,482.3 365.5,482.3 363.9,489.2 362.3,482.5 360.7,478.6 359.1,488.9 357.5,500.3 355.9,486.9 354.3,481.9 352.8,482.7 351.2,483.5 349.6,479.4 348.0,478.0 346.4,483.0 344.8,483.6 343.2,483.9 341.6,484.6 340.0,488.8 338.4,484.8 336.9,487.7 335.3,484.0 333.7,487.0 332.1,484.8 330.5,485.9 328.9,485.7 327.3,490.0 325.7,504.2 324.1,482.6 322.5,485.8 321.0,485.0 319.4,484.7 317.8,485.3 316.2,485.9 314.6,484.3 313.0,480.5 311.4,484.4 309.8,481.2 308.2,483.7 306.6,483.4 305.1,477.8 303.5,478.3 301.9,482.6 300.3,480.3 298.7,483.9 297.1,481.7 295.5,478.5 293.9,482.9 292.3,485.1 290.7,486.2 289.2,480.9 287.6,484.8 286.0,478.0 284.4,482.3 282.8,476.7 281.2,479.7 279.6,477.8 278.0,480.1 276.4,480.6 274.8,483.5 273.2,487.8 271.7,481.4 270.1,486.7 268.5,487.1 266.9,480.8 265.3,479.4 263.7,481.3 262.1,480.4 260.5,481.2 258.9,481.9 257.3,483.1 255.8,483.8 254.2,478.2 252.6,482.6 251.0,489.3 249.4,480.5 247.8,479.5 246.2,485.4 244.6,480.5 243.0,481.1 241.4,482.7 239.9,484.8 238.3,481.6 236.7,474.8 235.1,475.6 233.5,471.0 231.9,478.8 230.3,476.6 228.7,478.8 227.1,480.0 225.5,476.1 224.0,470.1 222.4,476.5 220.8,479.4 219.2,481.1 217.6,479.1 216.0,478.8 214.4,474.1 212.8,467.6 211.2,471.8 209.6,473.5 208.1,466.5 206.5,474.1 204.9,474.7 203.3,475.3 201.7,475.9 200.1,476.5 198.5,471.2 196.9,474.1 195.3,476.5 193.7,477.6 192.1,477.6 190.6,478.8 189.0,480.0 187.4,475.3 185.8,477.1 184.2,476.5 182.6,480.0 181.0,475.9 179.4,478.8 177.8,477.1 176.2,475.3 174.7,478.2 173.1,477.6 171.5,479.4 169.9,478.8 168.3,474.1 166.7,484.1 165.1,482.9 163.5,485.3 161.9,484.1 160.3,485.3 158.8,484.7 157.2,488.2 155.6,487.1 154.0,483.5 152.4,497.6 150.8,498.8 149.2,489.4 147.6,482.4 146.0,492.9 144.4,497.6 142.9,498.8 141.3,501.8 139.7,500.0 138.1,495.3 136.5,491.8 134.9,501.2 133.3,501.2 131.7,495.3 130.1,498.8 128.5,503.5 127.0,505.9 125.4,498.8 123.8,515.3 122.2,502.4 120.6,505.9 119.0,503.5" fill="#00f" fill-opacity="0.4" stroke="none"/>
<polygon points="119.0,417.0 120.6,412.1 122.2,411.4 123.8,432.0 125.4,412.3 127.0,420.1 128.5,416.9 130.1,412.3 131.7,408.6 133.3,411.6 134.9,415.7 136.5,405.5 138.1,407.9 139.7,413.7 141.3,414.9 142.9,412.6 144.4,413.2 146.0,410.2 147.6,393.4 149.2,402.1 150.8,412.6 152.4,415.5 154.0,414.8 155.6,417.3 157.2,425.3 158.8,422.3 160.3,423.1 161.9,419.8 163.5,423.1 165.1,419.4 166.7,421.8 168.3,413.9 169.9,415.2 171.5,419.4 173.1,413.5 174.7,412.8 176.2,413.8 177.8,415.3 179.4,415.4 181.0,414.8 182.6,420.2 184.2,414.4 185.8,415.8 187.4,416.0 189.0,418.3 190.6,419.6 192.1,416.4 193.7,416.5 195.3,415.2 196.9,410.5 198.5,412.3 200.1,416.4 201.7,416.8 203.3,417.1 204.9,417.2 206.5,415.3 208.1,399.7 209.6,415.7 211.2,412.3 212.8,405.0 214.4,415.2 216.0,419.6 217.6,421.6 219.2,424.4 220.8,421.8 222.4,418.8 224.0,410.6 225.5,413.7 227.1,420.0 228.7,417.5 230.3,417.7 231.9,419.1 233.5,412.1 235.1,417.4 236.7,418.7 238.3,421.5 239.9,422.7 241.4,420.8 243.0,422.1 244.6,417.9 246.2,422.7 247.8,418.2 249.4,423.1 251.0,425.7 252.6,420.4 254.2,415.4 255.8,419.0 257.3,421.0 258.9,419.5 260.5,414.9 262.1,417.1 263.7,419.8 265.3,416.3 266.9,419.2 268.5,426.4 270.1,423.3 271.7,419.9 273.2,425.4 274.8,421.1 276.4,416.9 278.0,418.1 279.6,412.6 281.2,416.3 282.8,416.1 284.4,419.4 286.0,418.2 287.6,419.8 289.2,419.1 290.7,416.4 292.3,421.5 293.9,419.0 295.5,418.5 297.1,423.4 298.7,421.9 300.3,417.5 301.9,419.4 303.5,414.1 305.1,415.0 306.6,418.8 308.2,418.8 309.8,419.7 311.4,416.4 313.0,419.2 314.6,421.2 316.2,421.4 317.8,421.3 319.4,420.3 321.0,420.0 322.5,419.8 324.1,422.0 325.7,436.0 327.3,426.0 328.9,422.9 330.5,421.1 332.1,420.2 333.7,420.7 335.3,420.4 336.9,422.3 338.4,424.6 340.0,428.2 341.6,422.2 343.2,419.7 344.8,421.2 346.4,419.1 348.0,418.3 349.6,413.5 351.2,420.2 352.8,421.5 354.3,421.8 355.9,424.7 357.5,437.7 359.1,423.8 360.7,412.1 362.3,421.7 363.9,423.5 365.5,418.6 367.1,423.1 368.7,425.9 370.3,421.4 371.8,418.9 373.4,420.8 375.0,415.4 376.6,418.7 378.2,417.1 379.8,398.1 381.4,418.6 383.0,415.8 384.6,419.9 386.2,418.9 387.7,411.7 389.3,418.8 390.9,427.3 392.5,424.5 394.1,422.4 395.7,420.8 397.3,420.2 398.9,422.4 400.5,424.8 402.1,419.8 403.6,422.4 405.2,420.5 406.8,424.9 408.4,422.0 410.0,417.6 411.6,426.1 413.2,430.4 414.8,424.2 416.4,422.5 418.0,425.6 419.5,420.8 421.1,423.9 422.7,421.8 424.3,424.0 425.9,421.6 427.5,419.1 429.1,421.9 430.7,411.7 432.3,418.2 433.9,433.2 435.4,418.5 437.0,422.7 438.6,421.7 440.2,433.4 441.8,422.3 443.4,416.3 445.0,417.1 446.6,418.9 448.2,419.3 449.8,417.2 451.4,421.6 452.9,418.7 454.5,417.2 456.1,421.7 457.7,421.9 459.3,416.1 460.9,420.3 462.5,422.5 464.1,425.3 465.7,420.1 467.3,419.6 468.8,418.1 470.4,419.2 472.0,420.7 473.6,418.7 475.2,423.9 476.8,423.5 478.4,415.5 480.0,422.7 481.6,408.7 483.2,415.8 484.7,422.2 486.3,424.2 487.9,417.3 489.5,423.7 491.1,420.4 492.7,424.7 494.3,406.3 495.9,422.8 497.5,426.6 499.1,424.6 500.6,419.7 502.2,413.9 503.8,416.8 505.4,418.6 507.0,421.4 508.6,423.8 510.2,418.7 511.8,417.9 513.4,422.7 515.0,418.3 516.5,424.8 518.1,427.8 519.7,419.0 521.3,415.9 522.9,420.1 524.5,419.5 526.1,420.9 527.7,424.3 529.3,421.7 530.9,420.9 532.5,423.3 534.0,416.3 535.6,420.9 537.2,417.9 538.8,421.2 540.4,420.4 542.0,420.7 543.6,422.6 545.2,420.4 546.8,415.2 548.4,420.0 549.9,423.4 551.5,415.2 553.1,418.6 554.7,418.8 556.3,418.5 557.9,416.7 559.5,417.8 561.1,417.0 562.7,414.9 564.3,422.9 565.8,417.8 567.4,413.0 569.0,416.0 570.6,414.8 572.2,418.1 573.8,415.2 575.4,424.6 577.0,433.5 578.6,419.9 580.2,415.0 581.7,421.4 583.3,424.8 584.9,420.9 586.5,418.9 588.1,422.9 589.7,412.0 591.3,416.7 592.9,420.1 594.5,416.2 596.1,418.0 597.7,420.2 599.2,410.5 600.8,422.8 602.4,418.5 604.0,417.3 605.6,417.8 607.2,416.1 608.8,417.1 610.4,428.2 612.0,420.5 613.6,417.1 615.1,388.9 616.7,416.5 618.3,421.1 619.9,423.3 621.5,419.7 623.1,414.9 624.7,419.1 626.3,420.8 627.9,422.3 629.5,416.7 631.0,421.0 632.6,415.9 634.2,419.2 635.8,417.2 637.4,422.2 639.0,427.0 640.6,420.0 642.2,409.0 643.8,419.8 645.4,426.2 646.9,420.5 648.5,416.5 650.1,417.5 651.7,421.0 653.3,419.7 654.9,425.4 656.5,424.2 658.1,423.1 659.7,419.7 661.3,418.4 662.8,419.7 664.4,420.9 666.0,420.1 667.6,421.0 669.2,418.9 670.8,422.5 672.4,417.1 674.0,410.5 675.6,428.3 677.2,422.6 678.8,426.6 680.3,421.2 681.9,425.5 683.5,421.5 685.1,433.2 686.7,418.2 688.3,426.4 689.9,409.3 691.5,420.4 693.1,427.7 694.7,410.0 696.2,418.9 697.8,423.7 699.4,420.0 701.0,422.2 702.6,422.7 704.2,423.7 705.8,423.2 707.4,437.4 709.0,420.8 710.6,416.6 712.1,417.6 713.7,419.9 715.3,420.3 716.9,420.1 718.5,425.1 720.1,424.0 721.7,424.2 723.3,425.7 724.9,424.9 726.5,422.9 728.0,409.0 729.6,421.3 731.2,419.5 732.8,419.7 734.4,422.4 736.0,418.1 737.6,422.4 739.2,419.9 740.8,417.9 742.4,427.9 743.9,423.5 745.5,442.8 747.1,421.8 748.7,410.2 750.3,415.7 751.9,420.6 753.5,423.5 755.1,420.3 756.7,423.4 758.3,428.6 759.9,426.7 761.4,419.4 763.0,415.9 764.6,424.6 766.2,422.3 767.8,419.0 769.4,417.4 771.0,417.9 772.6,421.1 774.2,421.0 775.8,425.5 777.3,427.0 778.9,413.0 780.5,421.6 782.1,416.6 783.7,422.8 785.3,420.4 786.9,424.5 788.5,423.8 790.1,432.4 791.7,421.2 793.2,410.6 794.8,432.2 796.4,418.3 798.0,426.2 799.6,425.1 801.2,423.3 802.8,410.7 804.4,414.6 806.0,424.8 807.6,412.8 809.1,418.7 810.7,415.1 812.3,412.6 813.9,417.8 815.5,405.2 817.1,444.8 818.7,428.8 820.3,416.3 821.9,411.1 823.5,418.7 825.0,421.6 826.6,417.7 828.2,425.4 829.8,419.2 831.4,423.3 833.0,419.3 833.0,474.5 831.4,477.6 829.8,472.3 828.2,477.9 826.6,471.4 825.0,475.7 823.5,471.2 821.9,465.7 820.3,468.3 818.7,480.6 817.1,506.0 815.5,461.5 813.9,467.9 812.3,465.7 810.7,468.2 809.1,471.3 807.6,466.1 806.0,479.7 804.4,468.0 802.8,465.8 801.2,466.6 799.6,466.3 798.0,470.3 796.4,462.4 794.8,477.3 793.2,457.9 791.7,467.3 790.1,479.4 788.5,467.2 786.9,466.7 785.3,466.1 783.7,466.7 782.1,461.2 780.5,465.9 778.9,458.3 777.3,473.2 775.8,465.7 774.2,464.2 772.6,464.4 771.0,461.5 769.4,462.4 767.8,464.3 766.2,465.7 764.6,469.0 763.0,462.7 761.4,463.9 759.9,472.1 758.3,474.7 756.7,467.8 755.1,464.9 753.5,467.5 751.9,465.2 750.3,460.8 748.7,456.6 747.1,466.0 745.5,491.0 743.9,468.1 742.4,471.0 740.8,461.9 739.2,462.9 737.6,465.3 736.0,461.8 734.4,466.0 732.8,463.6 731.2,464.3 729.6,465.1 728.0,454.9 726.5,466.4 724.9,468.8 723.3,470.2 721.7,468.2 720.1,468.9 718.5,468.7 716.9,465.8 715.3,466.0 713.7,462.4 712.1,464.1 710.6,463.1 709.0,466.9 707.4,484.0 705.8,467.0 704.2,467.1 702.6,466.4 701.0,465.8 699.4,464.9 697.8,469.5 696.2,463.7 694.7,458.0 693.1,474.1 691.5,464.2 689.9,457.2 688.3,470.5 686.7,463.0 685.1,477.8 683.5,465.7 681.9,467.9 680.3,467.1 678.8,469.0 677.2,468.1 675.6,473.2 674.0,456.6 672.4,461.9 670.8,467.3 669.2,464.4 667.6,467.0 666.0,463.9 664.4,466.1 662.8,463.4 661.3,462.3 659.7,464.1 658.1,466.0 656.5,468.6 654.9,468.9 653.3,463.9 651.7,464.6 650.1,461.9 648.5,461.1 646.9,464.9 645.4,471.3 643.8,465.4 642.2,454.9 640.6,462.3 639.0,469.7 637.4,466.2 635.8,461.0 634.2,462.5 632.6,459.4 631.0,464.3 629.5,460.7 627.9,465.6 626.3,464.7 624.7,462.3 623.1,458.7 621.5,464.1 619.9,467.2 618.3,464.4 616.7,460.6 615.1,441.9 613.6,459.8 612.0,465.2 610.4,470.0 608.8,460.9 607.2,461.1 605.6,461.5 604.0,460.1 602.4,463.8 600.8,466.4 599.2,459.2 597.7,461.6 596.1,461.5 594.5,462.4 592.9,463.6 591.3,461.0 589.7,457.7 588.1,466.2 586.5,465.2 584.9,466.3 583.3,468.0 581.7,465.0 580.2,460.3 578.6,465.8 577.0,477.7 575.4,468.6 573.8,461.6 572.2,463.3 570.6,462.3 569.0,461.0 567.4,458.9 565.8,463.2 564.3,468.3 562.7,461.0 561.1,462.0 559.5,459.9 557.9,462.1 556.3,462.6 554.7,462.7 553.1,462.6 551.5,462.4 549.9,467.4 548.4,466.1 546.8,460.0 545.2,464.4 543.6,466.7 542.0,464.2 540.4,464.4 538.8,466.2 537.2,463.4 535.6,465.0 534.0,458.9 532.5,466.0 530.9,465.1 529.3,465.2 527.7,467.7 526.1,466.5 524.5,465.7 522.9,465.1 521.3,461.4 519.7,464.4 518.1,471.0 516.5,470.8 515.0,463.1 513.4,467.8 511.8,463.1 510.2,463.4 508.6,466.1 507.0,464.9 505.4,463.5 503.8,461.9 502.2,459.3 500.6,463.3 499.1,470.5 497.5,470.8 495.9,467.2 494.3,451.7 492.7,468.1 491.1,464.1 489.5,468.5 487.9,462.7 486.3,468.4 484.7,466.4 483.2,460.8 481.6,455.8 480.0,465.2 478.4,461.0 476.8,466.5 475.2,466.1 473.6,461.3 472.0,465.4 470.4,465.0 468.8,463.0 467.3,465.8 465.7,465.3 464.1,466.7 462.5,465.6 460.9,464.6 459.3,462.9 457.7,465.6 456.1,466.1 454.5,463.2 452.9,463.0 451.4,466.3 449.8,461.8 448.2,464.6 446.6,464.1 445.0,462.5 443.4,461.3 441.8,467.3 440.2,478.8 438.6,465.5 437.0,467.3 435.4,464.4 433.9,478.0 432.3,462.4 430.7,457.6 429.1,465.1 427.5,464.1 425.9,465.4 424.3,469.7 422.7,464.4 421.1,468.4 419.5,465.0 418.0,471.4 416.4,466.5 414.8,468.9 413.2,472.6 411.6,470.6 410.0,463.6 408.4,466.4 406.8,470.0 405.2,463.9 403.6,463.9 402.1,466.3 400.5,468.8 398.9,466.3 397.3,465.8 395.7,464.2 394.1,467.5 392.5,469.0 390.9,470.0 389.3,461.8 387.7,455.2 386.2,459.7 384.6,462.5 383.0,459.6 381.4,462.1 379.8,447.2 378.2,461.3 376.6,460.8 375.0,458.8 373.4,465.3 371.8,464.4 370.3,464.4 368.7,466.7 367.1,465.6 365.5,463.4 363.9,468.7 362.3,464.5 360.7,458.5 359.1,467.8 357.5,482.1 355.9,467.9 354.3,465.0 352.8,464.0 351.2,462.4 349.6,459.1 348.0,462.6 346.4,462.7 344.8,464.9 343.2,465.7 341.6,466.9 340.0,470.4 338.4,467.7 336.9,465.8 335.3,467.9 333.7,467.1 332.1,465.1 330.5,466.0 328.9,466.0 327.3,469.4 325.7,482.6 324.1,467.3 322.5,466.1 321.0,464.5 319.4,464.9 317.8,466.2 316.2,464.6 314.6,463.7 313.0,461.9 311.4,460.8 309.8,462.0 308.2,463.1 306.6,463.5 305.1,459.0 303.5,460.5 301.9,461.3 300.3,462.2 298.7,463.4 297.1,464.5 295.5,462.7 293.9,463.2 292.3,464.0 290.7,466.1 289.2,462.8 287.6,463.5 286.0,460.4 284.4,462.3 282.8,460.6 281.2,461.5 279.6,459.5 278.0,462.2 276.4,462.9 274.8,465.6 273.2,468.9 271.7,463.8 270.1,467.2 268.5,466.5 266.9,463.3 265.3,460.1 263.7,463.1 262.1,462.3 260.5,459.6 258.9,463.9 257.3,463.5 255.8,463.9 254.2,461.0 252.6,465.0 251.0,469.2 249.4,464.2 247.8,461.8 246.2,465.5 244.6,462.1 243.0,465.8 241.4,463.1 239.9,466.4 238.3,465.0 236.7,461.7 235.1,460.8 233.5,457.5 231.9,463.3 230.3,460.7 228.7,462.4 227.1,462.8 225.5,460.0 224.0,456.5 222.4,460.5 220.8,463.1 219.2,465.1 217.6,463.8 216.0,461.8 214.4,458.8 212.8,452.9 211.2,457.6 209.6,457.6 208.1,450.6 206.5,457.6 204.9,458.8 203.3,459.4 201.7,460.0 200.1,460.6 198.5,456.5 196.9,458.8 195.3,460.0 193.7,461.8 192.1,461.2 190.6,462.4 189.0,462.9 187.4,461.2 185.8,460.0 184.2,459.4 182.6,462.4 181.0,460.0 179.4,461.8 177.8,460.6 176.2,459.4 174.7,461.2 173.1,460.6 171.5,461.8 169.9,460.0 168.3,457.6 166.7,464.1 165.1,463.5 163.5,465.3 161.9,464.7 160.3,465.9 158.8,465.3 157.2,466.5 155.6,465.9 154.0,462.9 152.4,471.8 150.8,471.8 149.2,463.5 147.6,457.6 146.0,468.2 144.4,471.2 142.9,471.8 141.3,473.5 139.7,471.8 138.1,468.2 136.5,466.5 134.9,474.1 133.3,472.9 131.7,468.8 130.1,471.2 128.5,474.1 127.0,475.3 125.4,471.8 123.8,484.7 122.2,472.9 120.6,475.3 119.0,472.9" fill="#00f" fill-opacity="0.5" stroke="none"/>
<path d="M119.0 645.0 L120.6 638.0 L122.2 641.0 L123.8 731.8 L125.4 627.0 L127.0 627.0 L128.5 637.6 L130.1 621.0 L131.7 607.0 L133.3 617.6 L134.9 628.0 L136.5 589.4 L138.1 600.0 L139.7 614.0 L141.3 614.0 L142.9 616.0 L144.4 604.7 L146.0 595.0 L147.6 569.0 L149.2 590.6 L150.8 608.0 L152.4 600.0 L154.0 548.2 L155.6 541.2 L157.2 542.4 L158.8 535.3 L160.3 534.1 L161.9 535.3 L163.5 538.8 L165.1 534.1 L166.7 543.5 L168.3 528.2 L169.9 538.8 L171.5 529.4 L173.1 534.1 L174.7 532.9 L176.2 529.4 L177.8 520.0 L179.4 529.4 L181.0 524.7 L182.6 531.8 L184.2 524.7 L185.8 522.4 L187.4 523.5 L189.0 525.9 L190.6 524.7 L192.1 522.4 L193.7 524.7 L195.3 520.0 L196.9 522.4 L198.5 516.5 L200.1 524.7 L201.7 522.4 L203.3 521.2 L204.9 524.7 L206.5 529.4 L208.1 509.4 L209.6 522.4 L211.2 520.0 L212.8 512.9 L214.4 522.4 L216.0 524.7 L217.6 525.9 L219.2 528.2 L220.8 524.7 L222.4 522.4 L224.0 521.2 L225.5 524.7 L227.1 527.1 L228.7 524.7 L230.3 522.4 L231.9 524.7 L233.5 520.0 L235.1 525.9 L236.7 524.7 L238.3 529.4 L239.9 531.8 L241.4 529.4 L243.0 534.1 L244.6 528.2 L246.2 535.3 L247.8 529.4 L249.4 531.8 L251.0 541.2 L252.6 534.1 L254.2 527.1 L255.8 531.8 L257.3 532.9 L258.9 530.6 L260.5 528.2 L262.1 531.8 L263.7 534.1 L265.3 524.7 L266.9 529.4 L268.5 534.1 L270.1 538.8 L271.7 531.8 L273.2 538.8 L274.8 531.8 L276.4 528.2 L278.0 524.7 L279.6 520.0 L281.2 524.7 L282.8 522.4 L284.4 529.4 L286.0 525.9 L287.6 528.2 L289.2 529.4 L290.7 554.1 L292.3 529.4 L293.9 531.8 L295.5 524.7 L297.1 529.4 L298.7 530.6 L300.3 524.7 L301.9 529.4 L303.5 522.4 L305.1 524.7 L306.6 535.3 L308.2 528.2 L309.8 529.4 L311.4 524.7 L313.0 528.2 L314.6 530.6 L316.2 531.8 L317.8 532.9 L319.4 534.1 L321.0 535.3 L322.5 536.5 L324.1 538.8 L325.7 571.8 L327.3 545.9 L328.9 538.8 L330.5 536.5 L332.1 535.3 L333.7 538.8 L335.3 534.1 L336.9 536.5 L338.4 541.2 L340.0 548.2 L341.6 538.8 L343.2 531.8 L344.8 534.1 L346.4 529.4 L348.0 522.4 L349.6 524.7 L351.2 531.8 L352.8 532.9 L354.3 534.1 L355.9 541.2 L357.5 567.1 L359.1 538.8 L360.7 524.7 L362.3 534.1 L363.9 536.5 L365.5 532.9 L367.1 535.3 L368.7 538.8 L370.3 535.3 L371.8 532.9 L373.4 531.8 L375.0 524.7 L376.6 529.4 L378.2 528.2 L379.8 515.3 L381.4 529.4 L383.0 528.2 L384.6 529.4 L386.2 524.7 L387.7 521.2 L389.3 528.2 L390.9 543.5 L392.5 541.2 L394.1 537.6 L395.7 536.5 L397.3 534.1 L398.9 537.6 L400.5 542.4 L402.1 536.5 L403.6 535.3 L405.2 534.1 L406.8 545.9 L408.4 536.5 L410.0 531.8 L411.6 538.8 L413.2 545.9 L414.8 538.8 L416.4 536.5 L418.0 542.4 L419.5 535.3 L421.1 537.6 L422.7 535.3 L424.3 541.2 L425.9 537.6 L427.5 534.1 L429.1 536.5 L430.7 524.7 L432.3 534.1 L433.9 562.4 L435.4 535.3 L437.0 538.8 L438.6 536.5 L440.2 560.0 L441.8 538.8 L443.4 529.4 L445.0 531.8 L446.6 535.3 L448.2 534.1 L449.8 532.9 L451.4 538.8 L452.9 536.5 L454.5 531.8 L456.1 538.8 L457.7 537.6 L459.3 532.9 L460.9 536.5 L462.5 538.8 L464.1 542.4 L465.7 537.6 L467.3 535.3 L468.8 532.9 L470.4 534.1 L472.0 536.5 L473.6 531.8 L475.2 540.0 L476.8 538.8 L478.4 530.6 L480.0 536.5 L481.6 524.7 L483.2 529.4 L484.7 538.8 L486.3 545.9 L487.9 534.1 L489.5 541.2 L491.1 536.5 L492.7 543.5 L494.3 524.7 L495.9 541.2 L497.5 548.2 L499.1 550.6 L500.6 536.5 L502.2 529.4 L503.8 534.1 L505.4 536.5 L507.0 540.0 L508.6 541.2 L510.2 536.5 L511.8 534.1 L513.4 542.4 L515.0 535.3 L516.5 545.9 L518.1 548.2 L519.7 535.3 L521.3 532.9 L522.9 538.8 L524.5 542.4 L526.1 541.2 L527.7 542.4 L529.3 538.8 L530.9 536.5 L532.5 540.0 L534.0 529.4 L535.6 535.3 L537.2 534.1 L538.8 537.6 L540.4 536.5 L542.0 535.3 L543.6 538.8 L545.2 536.5 L546.8 531.8 L548.4 536.5 L549.9 540.0 L551.5 532.9 L553.1 535.3 L554.7 536.5 L556.3 535.3 L557.9 532.9 L559.5 529.4 L561.1 534.1 L562.7 530.6 L564.3 550.6 L565.8 531.8 L567.4 528.2 L569.0 534.1 L570.6 531.8 L572.2 535.3 L573.8 534.1 L575.4 545.9 L577.0 561.9 L578.6 534.1 L580.2 524.7 L581.7 534.1 L583.3 545.9 L584.9 538.8 L586.5 534.1 L588.1 545.9 L589.7 529.4 L591.3 532.9 L592.9 538.8 L594.5 531.8 L596.1 530.6 L597.7 534.1 L599.2 527.1 L600.8 536.5 L602.4 532.9 L604.0 530.6 L605.6 529.4 L607.2 527.1 L608.8 531.8 L610.4 545.9 L612.0 536.5 L613.6 529.4 L615.1 520.0 L616.7 524.7 L618.3 532.9 L619.9 536.5 L621.5 534.1 L623.1 524.7 L624.7 529.4 L626.3 535.3 L627.9 536.5 L629.5 528.2 L631.0 532.9 L632.6 524.7 L634.2 529.4 L635.8 525.9 L637.4 534.1 L639.0 541.2 L640.6 532.9 L642.2 524.7 L643.8 532.9 L645.4 545.9 L646.9 535.3 L648.5 528.2 L650.1 525.9 L651.7 532.9 L653.3 531.8 L654.9 538.8 L656.5 537.6 L658.1 535.3 L659.7 532.9 L661.3 530.6 L662.8 531.8 L664.4 535.3 L666.0 534.1 L667.6 535.3 L669.2 532.9 L670.8 536.5 L672.4 530.6 L674.0 525.9 L675.6 552.9 L677.2 541.2 L678.8 545.9 L680.3 538.8 L681.9 542.4 L683.5 536.5 L685.1 555.3 L686.7 534.1 L688.3 545.9 L689.9 529.4 L691.5 536.5 L693.1 555.3 L694.7 529.4 L696.2 535.3 L697.8 543.5 L699.4 536.5 L701.0 537.6 L702.6 538.8 L704.2 541.2 L705.8 540.0 L707.4 575.1 L709.0 536.5 L710.6 530.6 L712.1 525.9 L713.7 529.4 L715.3 534.1 L716.9 532.9 L718.5 538.8 L720.1 542.4 L721.7 541.2 L723.3 545.9 L724.9 541.2 L726.5 534.1 L728.0 520.0 L729.6 531.8 L731.2 530.6 L732.8 529.4 L734.4 532.9 L736.0 528.2 L737.6 531.8 L739.2 529.4 L740.8 527.1 L742.4 543.5 L743.9 541.2 L745.5 577.6 L747.1 538.8 L748.7 524.7 L750.3 529.4 L751.9 534.1 L753.5 536.5 L755.1 534.1 L756.7 538.8 L758.3 545.9 L759.9 541.2 L761.4 531.8 L763.0 528.2 L764.6 538.8 L766.2 535.3 L767.8 531.8 L769.4 528.2 L771.0 524.7 L772.6 529.4 L774.2 532.9 L775.8 536.5 L777.3 556.5 L778.9 529.4 L780.5 535.3 L782.1 531.8 L783.7 537.6 L785.3 536.5 L786.9 541.2 L788.5 543.5 L790.1 568.2 L791.7 543.5 L793.2 534.1 L794.8 563.5 L796.4 541.2 L798.0 548.2 L799.6 541.2 L801.2 545.9 L802.8 575.1 L804.4 587.1 L806.0 627.5 L807.6 584.9 L809.1 596.5 L810.7 575.1 L812.3 574.1 L813.9 591.8 L815.5 575.1 L817.1 724.9 L818.7 616.0 L820.3 578.8 L821.9 572.9 L823.5 589.4 L825.0 600.5 L826.6 590.6 L828.2 610.6 L829.8 592.9 L831.4 610.6 L833.0 600.9" stroke="rgb(206,206,255)" stroke-width="0.81" stroke-dasharray="3.22 1.05"/>
<path d="M119.0 215.0 L120.6 200.0 L122.2 105.8 L123.8 256.5 L125.4 142.5 L127.0 173.0 L128.5 175.0 L130.1 161.0 L131.7 129.3 L133.3 129.6 L134.9 150.5 L136.5 102.4 L138.1 110.8 L139.7 143.0 L141.3 149.5 L142.9 146.3 L144.4 149.5 L146.0 151.4 L147.6 72.0 L149.2 111.0 L150.8 173.0 L152.4 201.0 L154.0 193.6 L155.6 201.0 L157.2 256.5 L158.8 246.0 L160.3 235.0 L161.9 233.6 L163.5 256.5 L165.1 220.7 L166.7 228.0 L168.3 206.0 L169.9 198.4 L171.5 240.0 L173.1 189.0 L174.7 201.0 L176.2 191.8 L177.8 193.0 L179.4 209.4 L181.0 208.0 L182.6 224.7 L184.2 222.0 L185.8 213.4 L187.4 214.0 L189.0 217.0 L190.6 233.0 L192.1 240.0 L193.7 215.0 L195.3 234.0 L196.9 204.7 L198.5 222.0 L200.1 236.5 L201.7 229.4 L203.3 244.7 L204.9 243.5 L206.5 213.0 L208.1 157.6 L209.6 245.9 L211.2 224.7 L212.8 196.0 L214.4 224.7 L216.0 255.0 L217.6 268.2 L219.2 275.8 L220.8 257.6 L222.4 235.3 L224.0 214.6 L225.5 223.5 L227.1 265.9 L228.7 227.1 L230.3 231.8 L231.9 248.2 L233.5 213.6 L235.1 234.1 L236.7 245.9 L238.3 264.7 L239.9 265.9 L241.4 247.1 L243.0 260.0 L244.6 245.2 L246.2 271.8 L247.8 234.1 L249.4 263.5 L251.0 279.5 L252.6 247.1 L254.2 222.4 L255.8 244.7 L257.3 262.4 L258.9 258.8 L260.5 241.2 L262.1 258.8 L263.7 262.4 L265.3 238.1 L266.9 258.8 L268.5 286.6 L270.1 270.6 L271.7 248.2 L273.2 275.3 L274.8 274.8 L276.4 253.6 L278.0 274.1 L279.6 218.8 L281.2 257.6 L282.8 250.6 L284.4 278.8 L286.0 258.8 L287.6 277.6 L289.2 270.6 L290.7 240.0 L292.3 263.5 L293.9 275.3 L295.5 270.6 L297.1 283.5 L298.7 281.2 L300.3 251.8 L301.9 268.2 L303.5 239.5 L305.1 238.1 L306.6 247.1 L308.2 268.2 L309.8 281.2 L311.4 240.5 L313.0 261.2 L314.6 275.3 L316.2 281.9 L317.8 276.5 L319.4 274.1 L321.0 275.3 L322.5 250.6 L324.1 255.3 L325.7 322.4 L327.3 297.6 L328.9 270.6 L330.5 268.2 L332.1 263.5 L333.7 256.5 L335.3 241.2 L336.9 257.6 L338.4 276.5 L340.0 300.0 L341.6 274.1 L343.2 250.6 L344.8 274.1 L346.4 277.6 L348.0 274.1 L349.6 261.2 L351.2 274.1 L352.8 282.4 L354.3 284.7 L355.9 300.0 L357.5 324.7 L359.1 292.9 L360.7 245.9 L362.3 283.5 L363.9 301.2 L365.5 264.7 L367.1 281.2 L368.7 300.0 L370.3 278.8 L371.8 270.6 L373.4 275.3 L375.0 261.2 L376.6 269.4 L378.2 271.8 L379.8 209.4 L381.4 274.1 L383.0 268.2 L384.6 284.7 L386.2 281.2 L387.7 249.4 L389.3 274.1 L390.9 300.0 L392.5 295.3 L394.1 289.4 L395.7 283.5 L397.3 272.9 L398.9 290.6 L400.5 296.5 L402.1 281.2 L403.6 288.2 L405.2 285.9 L406.8 288.2 L408.4 289.4 L410.0 275.3 L411.6 308.2 L413.2 309.4 L414.8 289.4 L416.4 290.6 L418.0 302.4 L419.5 283.5 L421.1 289.4 L422.7 277.6 L424.3 297.6 L425.9 285.9 L427.5 277.6 L429.1 288.2 L430.7 270.6 L432.3 276.5 L433.9 315.3 L435.4 268.2 L437.0 283.5 L438.6 274.1 L440.2 305.9 L441.8 281.2 L443.4 255.3 L445.0 267.1 L446.6 270.6 L448.2 267.1 L449.8 268.2 L451.4 272.9 L452.9 269.4 L454.5 260.0 L456.1 287.1 L457.7 284.7 L459.3 251.8 L460.9 274.1 L462.5 292.9 L464.1 300.0 L465.7 281.2 L467.3 274.1 L468.8 267.1 L470.4 276.5 L472.0 281.2 L473.6 254.1 L475.2 295.3 L476.8 292.9 L478.4 265.9 L480.0 283.5 L481.6 240.0 L483.2 248.2 L484.7 278.8 L486.3 291.8 L487.9 271.8 L489.5 285.9 L491.1 272.9 L492.7 288.2 L494.3 250.6 L495.9 283.5 L497.5 294.1 L499.1 295.3 L500.6 276.5 L502.2 254.8 L503.8 268.2 L505.4 278.8 L507.0 287.1 L508.6 290.6 L510.2 281.2 L511.8 277.6 L513.4 296.5 L515.0 268.2 L516.5 300.0 L518.1 321.2 L519.7 292.9 L521.3 271.8 L522.9 290.6 L524.5 278.8 L526.1 281.2 L527.7 303.5 L529.3 287.1 L530.9 284.7 L532.5 300.0 L534.0 276.5 L535.6 290.6 L537.2 280.0 L538.8 295.3 L540.4 292.9 L542.0 296.5 L543.6 300.0 L545.2 292.9 L546.8 272.9 L548.4 291.8 L549.9 304.2 L551.5 270.6 L553.1 283.5 L554.7 282.4 L556.3 283.5 L557.9 281.2 L559.5 278.8 L561.1 276.5 L562.7 272.9 L564.3 297.6 L565.8 276.5 L567.4 260.0 L569.0 272.9 L570.6 260.0 L572.2 270.6 L573.8 269.4 L575.4 314.1 L577.0 336.5 L578.6 290.6 L580.2 278.8 L581.7 297.6 L583.3 314.1 L584.9 300.0 L586.5 289.4 L588.1 302.4 L589.7 275.3 L591.3 281.2 L592.9 290.6 L594.5 282.4 L596.1 283.5 L597.7 292.9 L599.2 248.7 L600.8 301.2 L602.4 289.4 L604.0 285.9 L605.6 283.5 L607.2 276.5 L608.8 285.9 L610.4 317.6 L612.0 297.6 L613.6 285.9 L615.1 203.1 L616.7 281.2 L618.3 296.5 L619.9 303.5 L621.5 297.6 L623.1 281.2 L624.7 290.6 L626.3 300.0 L627.9 305.9 L629.5 277.6 L631.0 297.6 L632.6 278.8 L634.2 290.6 L635.8 281.2 L637.4 297.6 L639.0 305.9 L640.6 295.3 L642.2 234.6 L643.8 292.9 L645.4 296.5 L646.9 290.6 L648.5 270.6 L650.1 274.1 L651.7 289.4 L653.3 281.2 L654.9 301.2 L656.5 297.6 L658.1 294.1 L659.7 285.9 L661.3 280.0 L662.8 281.2 L664.4 297.6 L666.0 285.9 L667.6 288.2 L669.2 272.9 L670.8 296.5 L672.4 272.9 L674.0 252.9 L675.6 321.2 L677.2 301.2 L678.8 310.6 L680.3 292.9 L681.9 304.7 L683.5 288.2 L685.1 335.3 L686.7 284.7 L688.3 316.5 L689.9 248.2 L691.5 292.9 L693.1 315.3 L694.7 256.5 L696.2 288.2 L697.8 311.8 L699.4 289.4 L701.0 297.6 L702.6 295.3 L704.2 310.6 L705.8 307.1 L707.4 332.9 L709.0 295.3 L710.6 297.6 L712.1 295.3 L713.7 292.9 L715.3 289.4 L716.9 292.9 L718.5 314.1 L720.1 318.8 L721.7 312.9 L723.3 320.0 L724.9 317.6 L726.5 315.3 L728.0 275.3 L729.6 310.6 L731.2 295.3 L732.8 292.9 L734.4 311.8 L736.0 300.0 L737.6 310.6 L739.2 297.6 L740.8 288.2 L742.4 335.3 L743.9 310.6 L745.5 365.9 L747.1 311.8 L748.7 267.1 L750.3 274.1 L751.9 297.6 L753.5 301.2 L755.1 298.8 L756.7 310.6 L758.3 322.4 L759.9 316.5 L761.4 288.2 L763.0 265.9 L764.6 316.5 L766.2 311.8 L767.8 292.9 L769.4 277.6 L771.0 284.7 L772.6 297.6 L774.2 301.2 L775.8 311.8 L777.3 324.7 L778.9 275.3 L780.5 302.4 L782.1 267.1 L783.7 300.0 L785.3 290.6 L786.9 304.7 L788.5 295.3 L790.1 331.8 L791.7 283.5 L793.2 237.6 L794.8 314.1 L796.4 252.9 L798.0 292.9 L799.6 281.2 L801.2 275.3 L802.8 222.4 L804.4 227.1 L806.0 274.1 L807.6 228.2 L809.1 252.9 L810.7 240.0 L812.3 228.2 L813.9 252.9 L815.5 203.5 L817.1 317.6 L818.7 292.9 L820.3 241.2 L821.9 224.7 L823.5 255.3 L825.0 250.6 L826.6 232.9 L828.2 269.4 L829.8 252.9 L831.4 257.6 L833.0 227.1" stroke="rgb(0,0,204)" stroke-width="0.90" stroke-dasharray="3.30 0.97"/>
<path d="M119.0 534.1 L120.6 536.5 L122.2 532.9 L123.8 576.5 L125.4 520.0 L127.0 530.6 L128.5 532.9 L130.1 522.4 L131.7 517.6 L133.3 527.1 L134.9 529.4 L136.5 512.9 L138.1 516.5 L139.7 523.5 L141.3 527.1 L142.9 522.4 L144.4 520.0 L146.0 512.9 L147.6 501.2 L149.2 510.6 L150.8 522.4 L152.4 524.1 L154.0 497.6 L155.6 500.0 L157.2 501.2 L158.8 496.5 L160.3 497.6 L161.9 495.3 L163.5 497.6 L165.1 494.1 L166.7 496.5 L168.3 487.1 L169.9 491.8 L171.5 492.4 L173.1 490.6 L174.7 491.8 L176.2 487.1 L177.8 489.4 L179.4 491.2 L181.0 488.2 L182.6 492.4 L184.2 487.1 L185.8 488.8 L187.4 487.1 L189.0 495.9 L190.6 491.8 L192.1 489.4 L193.7 488.8 L195.3 487.6 L196.9 485.9 L198.5 482.4 L200.1 487.1 L201.7 487.1 L203.3 486.5 L204.9 485.9 L206.5 485.3 L208.1 478.8 L209.6 485.9 L211.2 483.5 L212.8 480.0 L214.4 487.1 L216.0 491.8 L217.6 492.1 L219.2 492.1 L220.8 489.7 L222.4 489.0 L224.0 483.6 L225.5 485.5 L227.1 488.6 L228.7 489.6 L230.3 489.5 L231.9 490.2 L233.5 484.9 L235.1 489.8 L236.7 492.9 L238.3 494.9 L239.9 493.6 L241.4 492.2 L243.0 498.1 L244.6 490.9 L246.2 496.2 L247.8 492.7 L249.4 493.8 L251.0 503.0 L252.6 492.2 L254.2 494.1 L255.8 493.7 L257.3 493.3 L258.9 494.4 L260.5 488.7 L262.1 495.1 L263.7 497.7 L265.3 489.6 L266.9 493.0 L268.5 500.7 L270.1 499.0 L271.7 495.7 L273.2 502.1 L274.8 499.9 L276.4 492.8 L278.0 492.3 L279.6 491.1 L281.2 486.9 L282.8 490.0 L284.4 490.9 L286.0 489.1 L287.6 498.1 L289.2 495.3 L290.7 507.2 L292.3 495.4 L293.9 497.5 L295.5 491.6 L297.1 495.2 L298.7 496.2 L300.3 492.3 L301.9 497.4 L303.5 489.7 L305.1 491.9 L306.6 496.5 L308.2 494.7 L309.8 492.7 L311.4 493.9 L313.0 493.0 L314.6 495.8 L316.2 496.0 L317.8 499.2 L319.4 498.9 L321.0 498.0 L322.5 498.5 L324.1 501.2 L325.7 523.2 L327.3 506.5 L328.9 503.3 L330.5 502.6 L332.1 499.5 L333.7 498.0 L335.3 501.6 L336.9 503.9 L338.4 501.5 L340.0 505.1 L341.6 496.6 L343.2 498.3 L344.8 496.0 L346.4 498.6 L348.0 486.3 L349.6 490.6 L351.2 497.2 L352.8 496.2 L354.3 496.4 L355.9 503.4 L357.5 518.9 L359.1 500.6 L360.7 490.4 L362.3 496.8 L363.9 499.8 L365.5 497.9 L367.1 498.3 L368.7 502.0 L370.3 496.9 L371.8 498.4 L373.4 494.0 L375.0 492.9 L376.6 488.8 L378.2 491.6 L379.8 476.7 L381.4 495.8 L383.0 493.2 L384.6 492.0 L386.2 491.0 L387.7 490.1 L389.3 493.9 L390.9 505.6 L392.5 499.7 L394.1 497.2 L395.7 499.9 L397.3 501.8 L398.9 499.3 L400.5 504.5 L402.1 497.0 L403.6 501.1 L405.2 497.0 L406.8 504.7 L408.4 495.9 L410.0 494.7 L411.6 502.9 L413.2 509.9 L414.8 499.3 L416.4 501.6 L418.0 503.4 L419.5 497.8 L421.1 498.9 L422.7 495.1 L424.3 500.5 L425.9 503.1 L427.5 494.9 L429.1 498.6 L430.7 491.8 L432.3 492.4 L433.9 517.3 L435.4 496.6 L437.0 500.8 L438.6 500.4 L440.2 515.2 L441.8 500.1 L443.4 494.4 L445.0 496.0 L446.6 496.0 L448.2 496.1 L449.8 493.0 L451.4 502.2 L452.9 495.5 L454.5 494.8 L456.1 503.5 L457.7 500.8 L459.3 494.7 L460.9 497.0 L462.5 499.0 L464.1 504.4 L465.7 499.9 L467.3 497.6 L468.8 500.9 L470.4 495.3 L472.0 497.5 L473.6 494.1 L475.2 501.7 L476.8 501.1 L478.4 493.1 L480.0 500.2 L481.6 489.4 L483.2 492.5 L484.7 495.8 L486.3 506.3 L487.9 494.6 L489.5 500.9 L491.1 498.1 L492.7 501.2 L494.3 484.8 L495.9 501.8 L497.5 505.8 L499.1 507.6 L500.6 496.4 L502.2 491.9 L503.8 493.9 L505.4 497.5 L507.0 501.2 L508.6 500.9 L510.2 495.0 L511.8 496.0 L513.4 502.4 L515.0 499.0 L516.5 505.3 L518.1 506.3 L519.7 495.0 L521.3 498.3 L522.9 497.2 L524.5 499.1 L526.1 500.8 L527.7 499.1 L529.3 502.2 L530.9 499.1 L532.5 502.1 L534.0 491.2 L535.6 496.9 L537.2 498.0 L538.8 501.0 L540.4 503.7 L542.0 499.7 L543.6 496.6 L545.2 498.5 L546.8 494.0 L548.4 500.2 L549.9 500.5 L551.5 495.9 L553.1 495.9 L554.7 498.6 L556.3 499.3 L557.9 494.1 L559.5 489.6 L561.1 494.0 L562.7 496.5 L564.3 505.1 L565.8 494.9 L567.4 490.1 L569.0 497.7 L570.6 494.6 L572.2 496.7 L573.8 494.0 L575.4 503.8 L577.0 515.6 L578.6 498.2 L580.2 493.4 L581.7 493.4 L583.3 501.4 L584.9 500.0 L586.5 497.3 L588.1 499.8 L589.7 490.5 L591.3 494.5 L592.9 498.3 L594.5 493.9 L596.1 494.1 L597.7 498.1 L599.2 492.1 L600.8 499.9 L602.4 496.4 L604.0 492.9 L605.6 492.8 L607.2 493.4 L608.8 495.0 L610.4 507.0 L612.0 499.3 L613.6 493.9 L615.1 478.4 L616.7 488.1 L618.3 496.3 L619.9 498.1 L621.5 498.7 L623.1 489.1 L624.7 494.8 L626.3 497.5 L627.9 500.3 L629.5 494.6 L631.0 496.5 L632.6 491.2 L634.2 494.7 L635.8 493.7 L637.4 497.5 L639.0 503.5 L640.6 495.8 L642.2 486.5 L643.8 496.9 L645.4 506.3 L646.9 496.7 L648.5 496.2 L650.1 491.4 L651.7 498.6 L653.3 496.8 L654.9 498.3 L656.5 500.5 L658.1 495.9 L659.7 496.6 L661.3 496.2 L662.8 499.3 L664.4 499.7 L666.0 494.4 L667.6 497.6 L669.2 499.4 L670.8 499.7 L672.4 498.2 L674.0 488.1 L675.6 508.7 L677.2 499.5 L678.8 504.7 L680.3 502.8 L681.9 501.5 L683.5 500.3 L685.1 513.7 L686.7 497.9 L688.3 504.9 L689.9 491.0 L691.5 502.1 L693.1 508.3 L694.7 492.4 L696.2 499.8 L697.8 503.9 L699.4 501.5 L701.0 494.0 L702.6 499.8 L704.2 499.8 L705.8 500.4 L707.4 524.1 L709.0 499.6 L710.6 493.2 L712.1 494.9 L713.7 492.3 L715.3 499.9 L716.9 496.7 L718.5 498.1 L720.1 499.8 L721.7 498.6 L723.3 503.1 L724.9 502.7 L726.5 500.8 L728.0 487.0 L729.6 494.1 L731.2 491.4 L732.8 494.4 L734.4 494.8 L736.0 493.4 L737.6 495.3 L739.2 499.6 L740.8 489.3 L742.4 505.6 L743.9 505.5 L745.5 528.7 L747.1 498.8 L748.7 491.4 L750.3 488.9 L751.9 494.3 L753.5 496.9 L755.1 498.4 L756.7 502.4 L758.3 507.1 L759.9 507.5 L761.4 495.5 L763.0 493.1 L764.6 501.1 L766.2 501.1 L767.8 496.0 L769.4 492.3 L771.0 495.0 L772.6 497.7 L774.2 499.1 L775.8 497.6 L777.3 508.4 L778.9 491.8 L780.5 498.1 L782.1 493.8 L783.7 499.5 L785.3 499.9 L786.9 500.1 L788.5 502.9 L790.1 518.0 L791.7 500.8 L793.2 492.4 L794.8 517.6 L796.4 499.2 L798.0 503.6 L799.6 502.1 L801.2 503.0 L802.8 512.3 L804.4 517.1 L806.0 539.5 L807.6 516.8 L809.1 520.4 L810.7 510.6 L812.3 508.5 L813.9 520.1 L815.5 506.6 L817.1 583.2 L818.7 534.9 L820.3 516.1 L821.9 515.0 L823.5 519.8 L825.0 529.4 L826.6 521.5 L828.2 533.1 L829.8 521.5 L831.4 528.4 L833.0 526.7" stroke="rgb(188,188,255)" stroke-width="0.80" stroke-dasharray="4.44 1.44"/>
<path d="M119.0 341.2 L120.6 328.2 L122.2 325.9 L123.8 404.0 L125.4 328.9 L127.0 343.5 L128.5 338.8 L130.1 330.6 L131.7 324.7 L133.3 328.2 L134.9 336.5 L136.5 314.1 L138.1 322.4 L139.7 331.8 L141.3 334.1 L142.9 329.4 L144.4 328.9 L146.0 327.1 L147.6 298.4 L149.2 312.9 L150.8 334.1 L152.4 341.2 L154.0 343.5 L155.6 348.2 L157.2 365.9 L158.8 360.0 L160.3 362.4 L161.9 356.5 L163.5 364.7 L165.1 355.3 L166.7 361.2 L168.3 345.9 L169.9 348.2 L171.5 361.2 L173.1 347.1 L174.7 345.9 L176.2 347.1 L177.8 348.2 L179.4 352.9 L181.0 350.6 L182.6 361.2 L184.2 351.8 L185.8 350.6 L187.4 352.9 L189.0 357.6 L190.6 358.8 L192.1 352.9 L193.7 354.1 L195.3 350.6 L196.9 345.9 L198.5 347.1 L200.1 355.3 L201.7 354.1 L203.3 356.5 L204.9 356.5 L206.5 350.6 L208.1 326.6 L209.6 355.3 L211.2 345.9 L212.8 337.6 L214.4 352.9 L216.0 362.4 L217.6 364.7 L219.2 368.9 L220.8 365.9 L222.4 360.0 L224.0 344.7 L225.5 350.6 L227.1 365.9 L228.7 357.6 L230.3 358.1 L231.9 360.0 L233.5 350.6 L235.1 356.5 L236.7 362.4 L238.3 365.9 L239.9 367.1 L241.4 362.4 L243.0 365.9 L244.6 360.0 L246.2 365.9 L247.8 357.6 L249.4 364.7 L251.0 370.6 L252.6 361.2 L254.2 350.6 L255.8 357.6 L257.3 360.0 L258.9 357.6 L260.5 351.8 L262.1 356.5 L263.7 360.0 L265.3 355.3 L266.9 360.0 L268.5 371.3 L270.1 364.7 L271.7 357.6 L273.2 368.2 L274.8 362.4 L276.4 356.5 L278.0 360.0 L279.6 346.4 L281.2 357.6 L282.8 352.9 L284.4 361.2 L286.0 360.0 L287.6 363.5 L289.2 362.4 L290.7 355.3 L292.3 360.0 L293.9 361.2 L295.5 358.8 L297.1 367.1 L298.7 364.7 L300.3 357.6 L301.9 360.0 L303.5 351.8 L305.1 351.8 L306.6 357.6 L308.2 361.2 L309.8 362.4 L311.4 354.8 L313.0 360.0 L314.6 363.5 L316.2 364.7 L317.8 365.9 L319.4 363.5 L321.0 361.2 L322.5 361.2 L324.1 365.9 L325.7 380.0 L327.3 368.2 L328.9 363.5 L330.5 362.4 L332.1 358.8 L333.7 361.2 L335.3 360.0 L336.9 363.5 L338.4 365.9 L340.0 371.8 L341.6 363.5 L343.2 357.6 L344.8 362.4 L346.4 363.5 L348.0 361.2 L349.6 355.3 L351.2 362.4 L352.8 364.7 L354.3 365.9 L355.9 370.6 L357.5 384.7 L359.1 368.2 L360.7 348.2 L362.3 365.9 L363.9 370.6 L365.5 358.8 L367.1 365.9 L368.7 370.6 L370.3 362.4 L371.8 358.8 L373.4 361.2 L375.0 352.9 L376.6 358.8 L378.2 357.6 L379.8 323.5 L381.4 358.8 L383.0 354.1 L384.6 361.2 L386.2 358.8 L387.7 345.9 L389.3 358.8 L390.9 371.8 L392.5 368.2 L394.1 364.7 L395.7 361.2 L397.3 360.0 L398.9 364.7 L400.5 368.2 L402.1 362.4 L403.6 364.7 L405.2 363.5 L406.8 365.9 L408.4 367.1 L410.0 360.0 L411.6 372.9 L413.2 375.3 L414.8 368.2 L416.4 367.1 L418.0 371.8 L419.5 365.9 L421.1 368.2 L422.7 364.7 L424.3 369.4 L425.9 365.9 L427.5 361.2 L429.1 365.9 L430.7 352.9 L432.3 360.0 L433.9 375.3 L435.4 361.2 L437.0 365.9 L438.6 363.5 L440.2 375.3 L441.8 365.9 L443.4 354.1 L445.0 357.6 L446.6 362.4 L448.2 361.2 L449.8 360.0 L451.4 363.5 L452.9 362.4 L454.5 358.8 L456.1 365.9 L457.7 364.7 L459.3 354.1 L460.9 362.4 L462.5 367.1 L464.1 370.6 L465.7 364.7 L467.3 361.2 L468.8 358.8 L470.4 360.0 L472.0 362.4 L473.6 356.5 L475.2 369.4 L476.8 367.1 L478.4 355.3 L480.0 365.9 L481.6 348.2 L483.2 352.9 L484.7 365.9 L486.3 370.6 L487.9 358.8 L489.5 367.1 L491.1 362.4 L492.7 368.2 L494.3 342.4 L495.9 365.9 L497.5 371.8 L499.1 370.6 L500.6 361.2 L502.2 351.8 L503.8 357.6 L505.4 362.4 L507.0 367.1 L508.6 368.2 L510.2 362.4 L511.8 361.2 L513.4 368.2 L515.0 360.0 L516.5 368.2 L518.1 376.5 L519.7 365.9 L521.3 360.0 L522.9 363.5 L524.5 361.2 L526.1 362.4 L527.7 371.8 L529.3 367.1 L530.9 365.9 L532.5 370.6 L534.0 360.0 L535.6 367.1 L537.2 363.5 L538.8 368.2 L540.4 367.1 L542.0 368.2 L543.6 370.6 L545.2 365.9 L546.8 358.8 L548.4 365.9 L549.9 370.6 L551.5 358.8 L553.1 362.4 L554.7 363.5 L556.3 364.7 L557.9 362.4 L559.5 361.2 L561.1 360.0 L562.7 355.3 L564.3 369.4 L565.8 361.2 L567.4 352.9 L569.0 357.6 L570.6 354.1 L572.2 358.8 L573.8 355.3 L575.4 370.6 L577.0 380.0 L578.6 363.5 L580.2 357.6 L581.7 365.9 L583.3 372.9 L584.9 368.2 L586.5 364.7 L588.1 369.4 L589.7 355.3 L591.3 361.2 L592.9 365.9 L594.5 361.2 L596.1 362.4 L597.7 365.9 L599.2 349.4 L600.8 370.6 L602.4 365.9 L604.0 363.5 L605.6 362.4 L607.2 360.0 L608.8 362.4 L610.4 377.6 L612.0 368.2 L613.6 363.5 L615.1 318.8 L616.7 361.2 L618.3 368.2 L619.9 371.8 L621.5 368.2 L623.1 360.0 L624.7 364.7 L626.3 369.4 L627.9 371.8 L629.5 361.2 L631.0 368.2 L632.6 361.2 L634.2 365.9 L635.8 362.4 L637.4 369.4 L639.0 376.5 L640.6 368.2 L642.2 349.4 L643.8 367.1 L645.4 369.4 L646.9 365.9 L648.5 361.2 L650.1 362.4 L651.7 368.2 L653.3 367.1 L654.9 375.3 L656.5 374.1 L658.1 371.8 L659.7 368.2 L661.3 365.9 L662.8 367.1 L664.4 371.8 L666.0 368.2 L667.6 369.4 L669.2 365.9 L670.8 372.9 L672.4 365.9 L674.0 351.8 L675.6 380.0 L677.2 372.9 L678.8 376.5 L680.3 371.8 L681.9 375.3 L683.5 370.6 L685.1 384.7 L686.7 367.1 L688.3 380.0 L689.9 354.1 L691.5 368.2 L693.1 377.6 L694.7 354.1 L696.2 365.9 L697.8 375.3 L699.4 369.4 L701.0 372.9 L702.6 374.1 L704.2 376.5 L705.8 375.3 L707.4 384.7 L709.0 369.4 L710.6 368.2 L712.1 368.2 L713.7 369.4 L715.3 368.2 L716.9 369.4 L718.5 376.5 L720.1 377.6 L721.7 375.3 L723.3 378.8 L724.9 377.6 L726.5 376.5 L728.0 356.5 L729.6 375.3 L731.2 371.8 L732.8 370.6 L734.4 376.5 L736.0 371.8 L737.6 375.3 L739.2 370.6 L740.8 368.2 L742.4 382.4 L743.9 375.3 L745.5 391.8 L747.1 375.3 L748.7 358.8 L750.3 365.9 L751.9 372.9 L753.5 375.3 L755.1 374.1 L756.7 377.6 L758.3 381.2 L759.9 378.8 L761.4 371.8 L763.0 365.9 L764.6 380.0 L766.2 377.6 L767.8 372.9 L769.4 368.2 L771.0 369.4 L772.6 374.1 L774.2 375.3 L775.8 378.8 L777.3 382.4 L778.9 364.7 L780.5 374.1 L782.1 365.9 L783.7 374.1 L785.3 371.8 L786.9 376.5 L788.5 374.1 L790.1 382.4 L791.7 370.6 L793.2 354.1 L794.8 377.6 L796.4 361.2 L798.0 372.9 L799.6 370.6 L801.2 365.9 L802.8 336.5 L804.4 342.4 L806.0 361.2 L807.6 342.4 L809.1 351.8 L810.7 347.1 L812.3 341.2 L813.9 351.8 L815.5 330.6 L817.1 380.0 L818.7 368.2 L820.3 349.4 L821.9 338.8 L823.5 351.8 L825.0 356.5 L826.6 348.2 L828.2 361.2 L829.8 351.8 L831.4 358.8 L833.0 344.7" stroke="rgb(0,0,178)" stroke-width="1.11" stroke-dasharray="4.56 1.33"/>
<path d="M119.0 503.5 L120.6 505.9 L122.2 502.4 L123.8 515.3 L125.4 498.8 L127.0 505.9 L128.5 503.5 L130.1 498.8 L131.7 495.3 L133.3 501.2 L134.9 501.2 L136.5 491.8 L138.1 495.3 L139.7 500.0 L141.3 501.8 L142.9 498.8 L144.4 497.6 L146.0 492.9 L147.6 482.4 L149.2 489.4 L150.8 498.8 L152.4 497.6 L154.0 483.5 L155.6 487.1 L157.2 488.2 L158.8 484.7 L160.3 485.3 L161.9 484.1 L163.5 485.3 L165.1 482.9 L166.7 484.1 L168.3 474.1 L169.9 478.8 L171.5 479.4 L173.1 477.6 L174.7 478.2 L176.2 475.3 L177.8 477.1 L179.4 478.8 L181.0 475.9 L182.6 480.0 L184.2 476.5 L185.8 477.1 L187.4 475.3 L189.0 480.0 L190.6 478.8 L192.1 477.6 L193.7 477.6 L195.3 476.5 L196.9 474.1 L198.5 471.2 L200.1 476.5 L201.7 475.9 L203.3 475.3 L204.9 474.7 L206.5 474.1 L208.1 466.5 L209.6 473.5 L211.2 471.8 L212.8 467.6 L214.4 474.1 L216.0 478.8 L217.6 479.1 L219.2 481.1 L220.8 479.4 L222.4 476.5 L224.0 470.1 L225.5 476.1 L227.1 480.0 L228.7 478.8 L230.3 476.6 L231.9 478.8 L233.5 471.0 L235.1 475.6 L236.7 474.8 L238.3 481.6 L239.9 484.8 L241.4 482.7 L243.0 481.1 L244.6 480.5 L246.2 485.4 L247.8 479.5 L249.4 480.5 L251.0 489.3 L252.6 482.6 L254.2 478.2 L255.8 483.8 L257.3 483.1 L258.9 481.9 L260.5 481.2 L262.1 480.4 L263.7 481.3 L265.3 479.4 L266.9 480.8 L268.5 487.1 L270.1 486.7 L271.7 481.4 L273.2 487.8 L274.8 483.5 L276.4 480.6 L278.0 480.1 L279.6 477.8 L281.2 479.7 L282.8 476.7 L284.4 482.3 L286.0 478.0 L287.6 484.8 L289.2 480.9 L290.7 486.2 L292.3 485.1 L293.9 482.9 L295.5 478.5 L297.1 481.7 L298.7 483.9 L300.3 480.3 L301.9 482.6 L303.5 478.3 L305.1 477.8 L306.6 483.4 L308.2 483.7 L309.8 481.2 L311.4 484.4 L313.0 480.5 L314.6 484.3 L316.2 485.9 L317.8 485.3 L319.4 484.7 L321.0 485.0 L322.5 485.8 L324.1 482.6 L325.7 504.2 L327.3 490.0 L328.9 485.7 L330.5 485.9 L332.1 484.8 L333.7 487.0 L335.3 484.0 L336.9 487.7 L338.4 484.8 L340.0 488.8 L341.6 484.6 L343.2 483.9 L344.8 483.6 L346.4 483.0 L348.0 478.0 L349.6 479.4 L351.2 483.5 L352.8 482.7 L354.3 481.9 L355.9 486.9 L357.5 500.3 L359.1 488.9 L360.7 478.6 L362.3 482.5 L363.9 489.2 L365.5 482.3 L367.1 482.3 L368.7 489.2 L370.3 486.3 L371.8 483.1 L373.4 481.9 L375.0 480.2 L376.6 480.6 L378.2 480.1 L379.8 467.0 L381.4 480.9 L383.0 478.6 L384.6 479.9 L386.2 480.7 L387.7 471.8 L389.3 481.5 L390.9 490.4 L392.5 489.0 L394.1 485.4 L395.7 485.1 L397.3 484.8 L398.9 484.9 L400.5 488.9 L402.1 485.3 L403.6 483.3 L405.2 482.9 L406.8 492.8 L408.4 487.1 L410.0 480.8 L411.6 490.0 L413.2 493.5 L414.8 489.7 L416.4 487.7 L418.0 486.4 L419.5 484.1 L421.1 488.8 L422.7 486.8 L424.3 487.7 L425.9 484.2 L427.5 483.7 L429.1 484.8 L430.7 476.6 L432.3 480.8 L433.9 500.7 L435.4 484.4 L437.0 486.9 L438.6 483.2 L440.2 496.8 L441.8 484.4 L443.4 480.2 L445.0 478.5 L446.6 484.2 L448.2 484.9 L449.8 480.7 L451.4 485.1 L452.9 484.9 L454.5 481.9 L456.1 485.0 L457.7 484.8 L459.3 481.4 L460.9 483.9 L462.5 486.7 L464.1 488.4 L465.7 486.9 L467.3 481.2 L468.8 483.8 L470.4 484.1 L472.0 484.1 L473.6 481.6 L475.2 488.2 L476.8 486.7 L478.4 479.5 L480.0 485.2 L481.6 473.9 L483.2 477.7 L484.7 485.0 L486.3 488.6 L487.9 482.7 L489.5 488.8 L491.1 484.6 L492.7 490.8 L494.3 472.0 L495.9 486.2 L497.5 490.1 L499.1 489.8 L500.6 483.5 L502.2 480.6 L503.8 479.8 L505.4 484.7 L507.0 486.1 L508.6 488.0 L510.2 482.9 L511.8 483.5 L513.4 486.7 L515.0 483.6 L516.5 487.9 L518.1 492.7 L519.7 484.3 L521.3 478.2 L522.9 485.6 L524.5 484.6 L526.1 487.8 L527.7 488.0 L529.3 486.9 L530.9 485.4 L532.5 485.3 L534.0 481.8 L535.6 485.8 L537.2 481.1 L538.8 485.9 L540.4 485.0 L542.0 482.7 L543.6 484.5 L545.2 486.1 L546.8 480.5 L548.4 485.2 L549.9 488.9 L551.5 481.7 L553.1 481.0 L554.7 484.4 L556.3 480.3 L557.9 480.1 L559.5 484.3 L561.1 480.9 L562.7 480.4 L564.3 486.5 L565.8 481.8 L567.4 478.7 L569.0 477.9 L570.6 479.3 L572.2 483.7 L573.8 481.9 L575.4 489.3 L577.0 498.3 L578.6 484.0 L580.2 477.8 L581.7 482.4 L583.3 488.8 L584.9 489.1 L586.5 482.2 L588.1 488.4 L589.7 478.2 L591.3 479.3 L592.9 483.2 L594.5 480.8 L596.1 480.1 L597.7 482.9 L599.2 475.9 L600.8 483.4 L602.4 483.7 L604.0 480.8 L605.6 479.3 L607.2 479.1 L608.8 483.6 L610.4 489.8 L612.0 482.8 L613.6 481.8 L615.1 464.7 L616.7 480.3 L618.3 481.3 L619.9 482.5 L621.5 485.2 L623.1 477.4 L624.7 482.1 L626.3 484.3 L627.9 488.1 L629.5 480.3 L631.0 483.0 L632.6 478.7 L634.2 479.7 L635.8 479.9 L637.4 484.7 L639.0 486.6 L640.6 481.5 L642.2 473.1 L643.8 480.9 L645.4 491.1 L646.9 486.1 L648.5 480.6 L650.1 478.5 L651.7 481.5 L653.3 483.9 L654.9 487.3 L656.5 486.7 L658.1 483.6 L659.7 480.6 L661.3 484.7 L662.8 481.6 L664.4 484.2 L666.0 482.1 L667.6 486.6 L669.2 482.6 L670.8 485.4 L672.4 481.7 L674.0 476.0 L675.6 495.9 L677.2 485.1 L678.8 491.4 L680.3 485.3 L681.9 488.2 L683.5 483.9 L685.1 497.8 L686.7 480.6 L688.3 489.8 L689.9 477.6 L691.5 483.0 L693.1 493.7 L694.7 477.3 L696.2 482.8 L697.8 487.7 L699.4 484.3 L701.0 484.3 L702.6 487.4 L704.2 486.1 L705.8 484.6 L707.4 506.6 L709.0 482.9 L710.6 480.2 L712.1 480.7 L713.7 483.5 L715.3 484.0 L716.9 483.3 L718.5 487.0 L720.1 489.3 L721.7 486.9 L723.3 490.3 L724.9 490.0 L726.5 484.7 L728.0 472.2 L729.6 482.3 L731.2 481.7 L732.8 480.4 L734.4 482.9 L736.0 480.2 L737.6 484.1 L739.2 482.5 L740.8 479.2 L742.4 491.3 L743.9 485.8 L745.5 515.0 L747.1 489.6 L748.7 474.6 L750.3 480.1 L751.9 484.3 L753.5 486.7 L755.1 483.3 L756.7 484.9 L758.3 494.3 L759.9 487.9 L761.4 483.2 L763.0 478.8 L764.6 486.9 L766.2 486.7 L767.8 484.9 L769.4 479.9 L771.0 479.0 L772.6 482.9 L774.2 483.1 L775.8 484.1 L777.3 493.6 L778.9 475.4 L780.5 485.6 L782.1 480.2 L783.7 486.1 L785.3 482.6 L786.9 486.5 L788.5 488.0 L790.1 502.7 L791.7 487.4 L793.2 478.3 L794.8 497.3 L796.4 483.8 L798.0 489.3 L799.6 486.2 L801.2 488.6 L802.8 487.9 L804.4 495.6 L806.0 506.1 L807.6 490.8 L809.1 496.6 L810.7 489.0 L812.3 488.1 L813.9 494.1 L815.5 481.8 L817.1 537.6 L818.7 505.0 L820.3 490.0 L821.9 490.1 L823.5 494.8 L825.0 499.1 L826.6 496.0 L828.2 501.5 L829.8 497.4 L831.4 502.4 L833.0 498.6" stroke="rgb(158,158,255)" stroke-width="1.10" stroke-dasharray="6.11 1.99"/>
<path d="M119.0 379.5 L120.6 369.7 L122.2 367.5 L123.8 414.0 L125.4 369.7 L127.0 380.3 L128.5 377.1 L130.1 370.3 L131.7 365.9 L133.3 369.1 L134.9 374.4 L136.5 358.8 L138.1 365.0 L139.7 372.9 L141.3 373.8 L142.9 369.9 L144.4 369.2 L146.0 366.3 L147.6 345.7 L149.2 355.8 L150.8 372.0 L152.4 377.7 L154.0 379.8 L155.6 382.6 L157.2 394.2 L158.8 390.0 L160.3 392.6 L161.9 387.7 L163.5 393.4 L165.1 386.8 L166.7 391.9 L168.3 380.6 L169.9 380.3 L171.5 389.3 L173.1 379.4 L174.7 377.8 L176.2 379.1 L177.8 380.3 L179.4 385.0 L181.0 382.2 L182.6 388.9 L184.2 383.5 L185.8 382.0 L187.4 383.0 L189.0 387.5 L190.6 388.1 L192.1 383.6 L193.7 385.2 L195.3 380.7 L196.9 378.2 L198.5 379.5 L200.1 386.4 L201.7 385.8 L203.3 387.3 L204.9 387.4 L206.5 381.5 L208.1 363.6 L209.6 383.6 L211.2 378.4 L212.8 369.8 L214.4 384.6 L216.0 391.9 L217.6 393.0 L219.2 397.4 L220.8 393.2 L222.4 388.9 L224.0 377.3 L225.5 381.4 L227.1 393.5 L228.7 388.8 L230.3 386.8 L231.9 389.9 L233.5 381.2 L235.1 387.6 L236.7 391.1 L238.3 394.2 L239.9 394.9 L241.4 390.8 L243.0 392.6 L244.6 389.9 L246.2 392.8 L247.8 387.5 L249.4 393.7 L251.0 397.4 L252.6 390.8 L254.2 383.5 L255.8 387.9 L257.3 389.1 L258.9 385.6 L260.5 382.6 L262.1 386.3 L263.7 389.3 L265.3 384.9 L266.9 389.5 L268.5 398.1 L270.1 393.6 L271.7 388.6 L273.2 396.0 L274.8 391.6 L276.4 388.4 L278.0 389.7 L279.6 378.5 L281.2 387.2 L282.8 384.5 L284.4 390.9 L286.0 389.1 L287.6 391.3 L289.2 390.4 L290.7 386.3 L292.3 390.1 L293.9 390.1 L295.5 388.2 L297.1 394.5 L298.7 393.5 L300.3 386.9 L301.9 389.5 L303.5 383.5 L305.1 383.2 L306.6 386.9 L308.2 390.9 L309.8 390.5 L311.4 385.6 L313.0 388.5 L314.6 390.4 L316.2 392.7 L317.8 393.6 L319.4 391.8 L321.0 390.4 L322.5 389.6 L324.1 393.4 L325.7 407.5 L327.3 398.0 L328.9 393.1 L330.5 391.3 L332.1 389.4 L333.7 390.6 L335.3 389.7 L336.9 393.2 L338.4 394.1 L340.0 397.5 L341.6 391.8 L343.2 388.2 L344.8 391.2 L346.4 392.2 L348.0 388.6 L349.6 384.9 L351.2 390.7 L352.8 392.1 L354.3 393.9 L355.9 397.8 L357.5 409.7 L359.1 396.3 L360.7 378.8 L362.3 393.2 L363.9 397.2 L365.5 388.5 L367.1 393.3 L368.7 397.9 L370.3 391.5 L371.8 389.6 L373.4 390.0 L375.0 383.9 L376.6 388.3 L378.2 386.4 L379.8 362.0 L381.4 388.0 L383.0 383.5 L384.6 391.0 L386.2 387.5 L387.7 378.3 L389.3 389.1 L390.9 398.9 L392.5 395.9 L394.1 392.9 L395.7 390.4 L397.3 388.3 L398.9 392.5 L400.5 396.0 L402.1 391.7 L403.6 393.2 L405.2 393.0 L406.8 395.4 L408.4 394.0 L410.0 388.4 L411.6 397.9 L413.2 401.2 L414.8 394.9 L416.4 394.6 L418.0 399.0 L419.5 392.7 L421.1 395.0 L422.7 391.2 L424.3 396.6 L425.9 393.8 L427.5 390.1 L429.1 393.1 L430.7 383.8 L432.3 389.6 L433.9 403.6 L435.4 389.6 L437.0 393.7 L438.6 392.1 L440.2 403.7 L441.8 394.2 L443.4 384.7 L445.0 387.8 L446.6 391.3 L448.2 389.5 L449.8 388.9 L451.4 391.6 L452.9 390.1 L454.5 388.7 L456.1 393.3 L457.7 394.0 L459.3 384.2 L460.9 391.0 L462.5 395.2 L464.1 397.3 L465.7 392.8 L467.3 389.7 L468.8 387.6 L470.4 388.9 L472.0 390.5 L473.6 387.2 L475.2 396.2 L476.8 395.9 L478.4 383.1 L480.0 393.5 L481.6 379.1 L483.2 383.3 L484.7 394.7 L486.3 398.2 L487.9 387.8 L489.5 395.4 L491.1 392.9 L492.7 396.4 L494.3 373.9 L495.9 393.7 L497.5 398.9 L499.1 397.0 L500.6 389.8 L502.2 383.8 L503.8 387.7 L505.4 391.1 L507.0 395.0 L508.6 396.4 L510.2 390.7 L511.8 390.8 L513.4 396.1 L515.0 388.6 L516.5 397.4 L518.1 400.3 L519.7 392.0 L521.3 387.7 L522.9 390.4 L524.5 389.7 L526.1 390.4 L527.7 397.0 L529.3 395.7 L530.9 393.2 L532.5 396.4 L534.0 388.2 L535.6 393.1 L537.2 391.0 L538.8 394.4 L540.4 394.3 L542.0 392.8 L543.6 396.5 L545.2 392.5 L546.8 386.1 L548.4 393.1 L549.9 395.5 L551.5 388.0 L553.1 389.8 L554.7 391.1 L556.3 391.3 L557.9 390.3 L559.5 387.4 L561.1 388.4 L562.7 384.4 L564.3 395.8 L565.8 389.4 L567.4 383.3 L569.0 386.2 L570.6 385.4 L572.2 389.5 L573.8 384.6 L575.4 397.0 L577.0 406.7 L578.6 392.1 L580.2 387.4 L581.7 391.8 L583.3 397.9 L584.9 393.9 L586.5 390.8 L588.1 394.1 L589.7 383.8 L591.3 387.7 L592.9 393.4 L594.5 389.1 L596.1 388.6 L597.7 391.4 L599.2 379.2 L600.8 396.9 L602.4 391.3 L604.0 389.2 L605.6 389.5 L607.2 387.8 L608.8 388.9 L610.4 403.3 L612.0 394.5 L613.6 390.4 L615.1 353.0 L616.7 388.0 L618.3 393.8 L619.9 395.2 L621.5 394.0 L623.1 385.6 L624.7 391.2 L626.3 394.1 L627.9 398.1 L629.5 388.3 L631.0 394.4 L632.6 388.5 L634.2 390.9 L635.8 387.5 L637.4 395.0 L639.0 401.9 L640.6 393.9 L642.2 379.2 L643.8 393.7 L645.4 395.5 L646.9 392.7 L648.5 389.6 L650.1 389.0 L651.7 392.7 L653.3 392.7 L654.9 399.2 L656.5 398.8 L658.1 395.9 L659.7 393.6 L661.3 389.8 L662.8 393.1 L664.4 397.1 L666.0 394.4 L667.6 393.4 L669.2 392.0 L670.8 395.1 L672.4 391.5 L674.0 380.0 L675.6 403.0 L677.2 397.7 L678.8 400.7 L680.3 397.0 L681.9 399.5 L683.5 395.4 L685.1 406.8 L686.7 391.1 L688.3 402.5 L689.9 381.7 L691.5 393.1 L693.1 403.1 L694.7 380.8 L696.2 391.0 L697.8 399.2 L699.4 393.9 L701.0 397.3 L702.6 397.4 L704.2 400.7 L705.8 398.5 L707.4 410.7 L709.0 394.1 L710.6 393.6 L712.1 391.7 L713.7 394.1 L715.3 393.2 L716.9 394.2 L718.5 400.5 L720.1 399.8 L721.7 397.7 L723.3 400.7 L724.9 400.4 L726.5 397.4 L728.0 381.7 L729.6 396.6 L731.2 394.1 L732.8 393.7 L734.4 398.8 L736.0 394.0 L737.6 397.3 L739.2 394.0 L740.8 391.6 L742.4 402.4 L743.9 398.1 L745.5 416.6 L747.1 398.8 L748.7 385.0 L750.3 390.3 L751.9 396.2 L753.5 397.3 L755.1 396.9 L756.7 400.5 L758.3 405.1 L759.9 400.9 L761.4 394.9 L763.0 390.6 L764.6 403.0 L766.2 399.5 L767.8 395.1 L769.4 391.1 L771.0 392.3 L772.6 396.0 L774.2 398.1 L775.8 401.3 L777.3 404.6 L778.9 389.4 L780.5 396.8 L782.1 390.6 L783.7 397.2 L785.3 395.7 L786.9 400.4 L788.5 397.7 L790.1 405.6 L791.7 395.4 L793.2 381.9 L794.8 403.4 L796.4 388.6 L798.0 399.8 L799.6 398.5 L801.2 393.5 L802.8 373.8 L804.4 378.6 L806.0 392.1 L807.6 377.3 L809.1 384.7 L810.7 380.9 L812.3 375.1 L813.9 383.6 L815.5 368.0 L817.1 413.0 L818.7 399.6 L820.3 381.7 L821.9 376.0 L823.5 385.2 L825.0 387.6 L826.6 382.9 L828.2 392.2 L829.8 385.5 L831.4 390.9 L833.0 381.8" stroke="rgb(0,0,153)" stroke-width="1.53" stroke-dasharray="6.26 1.83"/>
<path d="M119.0 472.9 L120.6 475.3 L122.2 472.9 L123.8 484.7 L125.4 471.8 L127.0 475.3 L128.5 474.1 L130.1 471.2 L131.7 468.8 L133.3 472.9 L134.9 474.1 L136.5 466.5 L138.1 468.2 L139.7 471.8 L141.3 473.5 L142.9 471.8 L144.4 471.2 L146.0 468.2 L147.6 457.6 L149.2 463.5 L150.8 471.8 L152.4 471.8 L154.0 462.9 L155.6 465.9 L157.2 466.5 L158.8 465.3 L160.3 465.9 L161.9 464.7 L163.5 465.3 L165.1 463.5 L166.7 464.1 L168.3 457.6 L169.9 460.0 L171.5 461.8 L173.1 460.6 L174.7 461.2 L176.2 459.4 L177.8 460.6 L179.4 461.8 L181.0 460.0 L182.6 462.4 L184.2 459.4 L185.8 460.0 L187.4 461.2 L189.0 462.9 L190.6 462.4 L192.1 461.2 L193.7 461.8 L195.3 460.0 L196.9 458.8 L198.5 456.5 L200.1 460.6 L201.7 460.0 L203.3 459.4 L204.9 458.8 L206.5 457.6 L208.1 450.6 L209.6 457.6 L211.2 457.6 L212.8 452.9 L214.4 458.8 L216.0 461.8 L217.6 463.8 L219.2 465.1 L220.8 463.1 L222.4 460.5 L224.0 456.5 L225.5 460.0 L227.1 462.8 L228.7 462.4 L230.3 460.7 L231.9 463.3 L233.5 457.5 L235.1 460.8 L236.7 461.7 L238.3 465.0 L239.9 466.4 L241.4 463.1 L243.0 465.8 L244.6 462.1 L246.2 465.5 L247.8 461.8 L249.4 464.2 L251.0 469.2 L252.6 465.0 L254.2 461.0 L255.8 463.9 L257.3 463.5 L258.9 463.9 L260.5 459.6 L262.1 462.3 L263.7 463.1 L265.3 460.1 L266.9 463.3 L268.5 466.5 L270.1 467.2 L271.7 463.8 L273.2 468.9 L274.8 465.6 L276.4 462.9 L278.0 462.2 L279.6 459.5 L281.2 461.5 L282.8 460.6 L284.4 462.3 L286.0 460.4 L287.6 463.5 L289.2 462.8 L290.7 466.1 L292.3 464.0 L293.9 463.2 L295.5 462.7 L297.1 464.5 L298.7 463.4 L300.3 462.2 L301.9 461.3 L303.5 460.5 L305.1 459.0 L306.6 463.5 L308.2 463.1 L309.8 462.0 L311.4 460.8 L313.0 461.9 L314.6 463.7 L316.2 464.6 L317.8 466.2 L319.4 464.9 L321.0 464.5 L322.5 466.1 L324.1 467.3 L325.7 482.6 L327.3 469.4 L328.9 466.0 L330.5 466.0 L332.1 465.1 L333.7 467.1 L335.3 467.9 L336.9 465.8 L338.4 467.7 L340.0 470.4 L341.6 466.9 L343.2 465.7 L344.8 464.9 L346.4 462.7 L348.0 462.6 L349.6 459.1 L351.2 462.4 L352.8 464.0 L354.3 465.0 L355.9 467.9 L357.5 482.1 L359.1 467.8 L360.7 458.5 L362.3 464.5 L363.9 468.7 L365.5 463.4 L367.1 465.6 L368.7 466.7 L370.3 464.4 L371.8 464.4 L373.4 465.3 L375.0 458.8 L376.6 460.8 L378.2 461.3 L379.8 447.2 L381.4 462.1 L383.0 459.6 L384.6 462.5 L386.2 459.7 L387.7 455.2 L389.3 461.8 L390.9 470.0 L392.5 469.0 L394.1 467.5 L395.7 464.2 L397.3 465.8 L398.9 466.3 L400.5 468.8 L402.1 466.3 L403.6 463.9 L405.2 463.9 L406.8 470.0 L408.4 466.4 L410.0 463.6 L411.6 470.6 L413.2 472.6 L414.8 468.9 L416.4 466.5 L418.0 471.4 L419.5 465.0 L421.1 468.4 L422.7 464.4 L424.3 469.7 L425.9 465.4 L427.5 464.1 L429.1 465.1 L430.7 457.6 L432.3 462.4 L433.9 478.0 L435.4 464.4 L437.0 467.3 L438.6 465.5 L440.2 478.8 L441.8 467.3 L443.4 461.3 L445.0 462.5 L446.6 464.1 L448.2 464.6 L449.8 461.8 L451.4 466.3 L452.9 463.0 L454.5 463.2 L456.1 466.1 L457.7 465.6 L459.3 462.9 L460.9 464.6 L462.5 465.6 L464.1 466.7 L465.7 465.3 L467.3 465.8 L468.8 463.0 L470.4 465.0 L472.0 465.4 L473.6 461.3 L475.2 466.1 L476.8 466.5 L478.4 461.0 L480.0 465.2 L481.6 455.8 L483.2 460.8 L484.7 466.4 L486.3 468.4 L487.9 462.7 L489.5 468.5 L491.1 464.1 L492.7 468.1 L494.3 451.7 L495.9 467.2 L497.5 470.8 L499.1 470.5 L500.6 463.3 L502.2 459.3 L503.8 461.9 L505.4 463.5 L507.0 464.9 L508.6 466.1 L510.2 463.4 L511.8 463.1 L513.4 467.8 L515.0 463.1 L516.5 470.8 L518.1 471.0 L519.7 464.4 L521.3 461.4 L522.9 465.1 L524.5 465.7 L526.1 466.5 L527.7 467.7 L529.3 465.2 L530.9 465.1 L532.5 466.0 L534.0 458.9 L535.6 465.0 L537.2 463.4 L538.8 466.2 L540.4 464.4 L542.0 464.2 L543.6 466.7 L545.2 464.4 L546.8 460.0 L548.4 466.1 L549.9 467.4 L551.5 462.4 L553.1 462.6 L554.7 462.7 L556.3 462.6 L557.9 462.1 L559.5 459.9 L561.1 462.0 L562.7 461.0 L564.3 468.3 L565.8 463.2 L567.4 458.9 L569.0 461.0 L570.6 462.3 L572.2 463.3 L573.8 461.6 L575.4 468.6 L577.0 477.7 L578.6 465.8 L580.2 460.3 L581.7 465.0 L583.3 468.0 L584.9 466.3 L586.5 465.2 L588.1 466.2 L589.7 457.7 L591.3 461.0 L592.9 463.6 L594.5 462.4 L596.1 461.5 L597.7 461.6 L599.2 459.2 L600.8 466.4 L602.4 463.8 L604.0 460.1 L605.6 461.5 L607.2 461.1 L608.8 460.9 L610.4 470.0 L612.0 465.2 L613.6 459.8 L615.1 441.9 L616.7 460.6 L618.3 464.4 L619.9 467.2 L621.5 464.1 L623.1 458.7 L624.7 462.3 L626.3 464.7 L627.9 465.6 L629.5 460.7 L631.0 464.3 L632.6 459.4 L634.2 462.5 L635.8 461.0 L637.4 466.2 L639.0 469.7 L640.6 462.3 L642.2 454.9 L643.8 465.4 L645.4 471.3 L646.9 464.9 L648.5 461.1 L650.1 461.9 L651.7 464.6 L653.3 463.9 L654.9 468.9 L656.5 468.6 L658.1 466.0 L659.7 464.1 L661.3 462.3 L662.8 463.4 L664.4 466.1 L666.0 463.9 L667.6 467.0 L669.2 464.4 L670.8 467.3 L672.4 461.9 L674.0 456.6 L675.6 473.2 L677.2 468.1 L678.8 469.0 L680.3 467.1 L681.9 467.9 L683.5 465.7 L685.1 477.8 L686.7 463.0 L688.3 470.5 L689.9 457.2 L691.5 464.2 L693.1 474.1 L694.7 458.0 L696.2 463.7 L697.8 469.5 L699.4 464.9 L701.0 465.8 L702.6 466.4 L704.2 467.1 L705.8 467.0 L707.4 484.0 L709.0 466.9 L710.6 463.1 L712.1 464.1 L713.7 462.4 L715.3 466.0 L716.9 465.8 L718.5 468.7 L720.1 468.9 L721.7 468.2 L723.3 470.2 L724.9 468.8 L726.5 466.4 L728.0 454.9 L729.6 465.1 L731.2 464.3 L732.8 463.6 L734.4 466.0 L736.0 461.8 L737.6 465.3 L739.2 462.9 L740.8 461.9 L742.4 471.0 L743.9 468.1 L745.5 491.0 L747.1 466.0 L748.7 456.6 L750.3 460.8 L751.9 465.2 L753.5 467.5 L755.1 464.9 L756.7 467.8 L758.3 474.7 L759.9 472.1 L761.4 463.9 L763.0 462.7 L764.6 469.0 L766.2 465.7 L767.8 464.3 L769.4 462.4 L771.0 461.5 L772.6 464.4 L774.2 464.2 L775.8 465.7 L777.3 473.2 L778.9 458.3 L780.5 465.9 L782.1 461.2 L783.7 466.7 L785.3 466.1 L786.9 466.7 L788.5 467.2 L790.1 479.4 L791.7 467.3 L793.2 457.9 L794.8 477.3 L796.4 462.4 L798.0 470.3 L799.6 466.3 L801.2 466.6 L802.8 465.8 L804.4 468.0 L806.0 479.7 L807.6 466.1 L809.1 471.3 L810.7 468.2 L812.3 465.7 L813.9 467.9 L815.5 461.5 L817.1 506.0 L818.7 480.6 L820.3 468.3 L821.9 465.7 L823.5 471.2 L825.0 475.7 L826.6 471.4 L828.2 477.9 L829.8 472.3 L831.4 477.6 L833.0 474.5" stroke="rgb(120,120,255)" stroke-width="1.40" stroke-dasharray="7.78 2.53"/>
<path d="M119.0 417.0 L120.6 412.1 L122.2 411.4 L123.8 432.0 L125.4 412.3 L127.0 420.1 L128.5 416.9 L130.1 412.3 L131.7 408.6 L133.3 411.6 L134.9 415.7 L136.5 405.5 L138.1 407.9 L139.7 413.7 L141.3 414.9 L142.9 412.6 L144.4 413.2 L146.0 410.2 L147.6 393.4 L149.2 402.1 L150.8 412.6 L152.4 415.5 L154.0 414.8 L155.6 417.3 L157.2 425.3 L158.8 422.3 L160.3 423.1 L161.9 419.8 L163.5 423.1 L165.1 419.4 L166.7 421.8 L168.3 413.9 L169.9 415.2 L171.5 419.4 L173.1 413.5 L174.7 412.8 L176.2 413.8 L177.8 415.3 L179.4 415.4 L181.0 414.8 L182.6 420.2 L184.2 414.4 L185.8 415.8 L187.4 416.0 L189.0 418.3 L190.6 419.6 L192.1 416.4 L193.7 416.5 L195.3 415.2 L196.9 410.5 L198.5 412.3 L200.1 416.4 L201.7 416.8 L203.3 417.1 L204.9 417.2 L206.5 415.3 L208.1 399.7 L209.6 415.7 L211.2 412.3 L212.8 405.0 L214.4 415.2 L216.0 419.6 L217.6 421.6 L219.2 424.4 L220.8 421.8 L222.4 418.8 L224.0 410.6 L225.5 413.7 L227.1 420.0 L228.7 417.5 L230.3 417.7 L231.9 419.1 L233.5 412.1 L235.1 417.4 L236.7 418.7 L238.3 421.5 L239.9 422.7 L241.4 420.8 L243.0 422.1 L244.6 417.9 L246.2 422.7 L247.8 418.2 L249.4 423.1 L251.0 425.7 L252.6 420.4 L254.2 415.4 L255.8 419.0 L257.3 421.0 L258.9 419.5 L260.5 414.9 L262.1 417.1 L263.7 419.8 L265.3 416.3 L266.9 419.2 L268.5 426.4 L270.1 423.3 L271.7 419.9 L273.2 425.4 L274.8 421.1 L276.4 416.9 L278.0 418.1 L279.6 412.6 L281.2 416.3 L282.8 416.1 L284.4 419.4 L286.0 418.2 L287.6 419.8 L289.2 419.1 L290.7 416.4 L292.3 421.5 L293.9 419.0 L295.5 418.5 L297.1 423.4 L298.7 421.9 L300.3 417.5 L301.9 419.4 L303.5 414.1 L305.1 415.0 L306.6 418.8 L308.2 418.8 L309.8 419.7 L311.4 416.4 L313.0 419.2 L314.6 421.2 L316.2 421.4 L317.8 421.3 L319.4 420.3 L321.0 420.0 L322.5 419.8 L324.1 422.0 L325.7 436.0 L327.3 426.0 L328.9 422.9 L330.5 421.1 L332.1 420.2 L333.7 420.7 L335.3 420.4 L336.9 422.3 L338.4 424.6 L340.0 428.2 L341.6 422.2 L343.2 419.7 L344.8 421.2 L346.4 419.1 L348.0 418.3 L349.6 413.5 L351.2 420.2 L352.8 421.5 L354.3 421.8 L355.9 424.7 L357.5 437.7 L359.1 423.8 L360.7 412.1 L362.3 421.7 L363.9 423.5 L365.5 418.6 L367.1 423.1 L368.7 425.9 L370.3 421.4 L371.8 418.9 L373.4 420.8 L375.0 415.4 L376.6 418.7 L378.2 417.1 L379.8 398.1 L381.4 418.6 L383.0 415.8 L384.6 419.9 L386.2 418.9 L387.7 411.7 L389.3 418.8 L390.9 427.3 L392.5 424.5 L394.1 422.4 L395.7 420.8 L397.3 420.2 L398.9 422.4 L400.5 424.8 L402.1 419.8 L403.6 422.4 L405.2 420.5 L406.8 424.9 L408.4 422.0 L410.0 417.6 L411.6 426.1 L413.2 430.4 L414.8 424.2 L416.4 422.5 L418.0 425.6 L419.5 420.8 L421.1 423.9 L422.7 421.8 L424.3 424.0 L425.9 421.6 L427.5 419.1 L429.1 421.9 L430.7 411.7 L432.3 418.2 L433.9 433.2 L435.4 418.5 L437.0 422.7 L438.6 421.7 L440.2 433.4 L441.8 422.3 L443.4 416.3 L445.0 417.1 L446.6 418.9 L448.2 419.3 L449.8 417.2 L451.4 421.6 L452.9 418.7 L454.5 417.2 L456.1 421.7 L457.7 421.9 L459.3 416.1 L460.9 420.3 L462.5 422.5 L464.1 425.3 L465.7 420.1 L467.3 419.6 L468.8 418.1 L470.4 419.2 L472.0 420.7 L473.6 418.7 L475.2 423.9 L476.8 423.5 L478.4 415.5 L480.0 422.7 L481.6 408.7 L483.2 415.8 L484.7 422.2 L486.3 424.2 L487.9 417.3 L489.5 423.7 L491.1 420.4 L492.7 424.7 L494.3 406.3 L495.9 422.8 L497.5 426.6 L499.1 424.6 L500.6 419.7 L502.2 413.9 L503.8 416.8 L505.4 418.6 L507.0 421.4 L508.6 423.8 L510.2 418.7 L511.8 417.9 L513.4 422.7 L515.0 418.3 L516.5 424.8 L518.1 427.8 L519.7 419.0 L521.3 415.9 L522.9 420.1 L524.5 419.5 L526.1 420.9 L527.7 424.3 L529.3 421.7 L530.9 420.9 L532.5 423.3 L534.0 416.3 L535.6 420.9 L537.2 417.9 L538.8 421.2 L540.4 420.4 L542.0 420.7 L543.6 422.6 L545.2 420.4 L546.8 415.2 L548.4 420.0 L549.9 423.4 L551.5 415.2 L553.1 418.6 L554.7 418.8 L556.3 418.5 L557.9 416.7 L559.5 417.8 L561.1 417.0 L562.7 414.9 L564.3 422.9 L565.8 417.8 L567.4 413.0 L569.0 416.0 L570.6 414.8 L572.2 418.1 L573.8 415.2 L575.4 424.6 L577.0 433.5 L578.6 419.9 L580.2 415.0 L581.7 421.4 L583.3 424.8 L584.9 420.9 L586.5 418.9 L588.1 422.9 L589.7 412.0 L591.3 416.7 L592.9 420.1 L594.5 416.2 L596.1 418.0 L597.7 420.2 L599.2 410.5 L600.8 422.8 L602.4 418.5 L604.0 417.3 L605.6 417.8 L607.2 416.1 L608.8 417.1 L610.4 428.2 L612.0 420.5 L613.6 417.1 L615.1 388.9 L616.7 416.5 L618.3 421.1 L619.9 423.3 L621.5 419.7 L623.1 414.9 L624.7 419.1 L626.3 420.8 L627.9 422.3 L629.5 416.7 L631.0 421.0 L632.6 415.9 L634.2 419.2 L635.8 417.2 L637.4 422.2 L639.0 427.0 L640.6 420.0 L642.2 409.0 L643.8 419.8 L645.4 426.2 L646.9 420.5 L648.5 416.5 L650.1 417.5 L651.7 421.0 L653.3 419.7 L654.9 425.4 L656.5 424.2 L658.1 423.1 L659.7 419.7 L661.3 418.4 L662.8 419.7 L664.4 420.9 L666.0 420.1 L667.6 421.0 L669.2 418.9 L670.8 422.5 L672.4 417.1 L674.0 410.5 L675.6 428.3 L677.2 422.6 L678.8 426.6 L680.3 421.2 L681.9 425.5 L683.5 421.5 L685.1 433.2 L686.7 418.2 L688.3 426.4 L689.9 409.3 L691.5 420.4 L693.1 427.7 L694.7 410.0 L696.2 418.9 L697.8 423.7 L699.4 420.0 L701.0 422.2 L702.6 422.7 L704.2 423.7 L705.8 423.2 L707.4 437.4 L709.0 420.8 L710.6 416.6 L712.1 417.6 L713.7 419.9 L715.3 420.3 L716.9 420.1 L718.5 425.1 L720.1 424.0 L721.7 424.2 L723.3 425.7 L724.9 424.9 L726.5 422.9 L728.0 409.0 L729.6 421.3 L731.2 419.5 L732.8 419.7 L734.4 422.4 L736.0 418.1 L737.6 422.4 L739.2 419.9 L740.8 417.9 L742.4 427.9 L743.9 423.5 L745.5 442.8 L747.1 421.8 L748.7 410.2 L750.3 415.7 L751.9 420.6 L753.5 423.5 L755.1 420.3 L756.7 423.4 L758.3 428.6 L759.9 426.7 L761.4 419.4 L763.0 415.9 L764.6 424.6 L766.2 422.3 L767.8 419.0 L769.4 417.4 L771.0 417.9 L772.6 421.1 L774.2 421.0 L775.8 425.5 L777.3 427.0 L778.9 413.0 L780.5 421.6 L782.1 416.6 L783.7 422.8 L785.3 420.4 L786.9 424.5 L788.5 423.8 L790.1 432.4 L791.7 421.2 L793.2 410.6 L794.8 432.2 L796.4 418.3 L798.0 426.2 L799.6 425.1 L801.2 423.3 L802.8 410.7 L804.4 414.6 L806.0 424.8 L807.6 412.8 L809.1 418.7 L810.7 415.1 L812.3 412.6 L813.9 417.8 L815.5 405.2 L817.1 444.8 L818.7 428.8 L820.3 416.3 L821.9 411.1 L823.5 418.7 L825.0 421.6 L826.6 417.7 L828.2 425.4 L829.8 419.2 L831.4 423.3 L833.0 419.3" stroke="rgb(0,0,128)" stroke-width="1.94" stroke-dasharray="7.97 2.33"/>
<path d="M119.0 447.1 L120.6 445.9 L122.2 444.7 L123.8 467.1 L125.4 445.9 L127.0 449.4 L128.5 448.2 L130.1 445.2 L131.7 442.4 L133.3 445.9 L134.9 447.5 L136.5 440.0 L138.1 442.4 L139.7 445.9 L141.3 447.5 L142.9 445.9 L144.4 445.2 L146.0 442.4 L147.6 431.8 L149.2 437.6 L150.8 444.7 L152.4 445.9 L154.0 444.2 L155.6 445.9 L157.2 448.9 L158.8 447.1 L160.3 447.5 L161.9 445.9 L163.5 448.2 L165.1 445.9 L166.7 447.5 L168.3 441.2 L169.9 442.4 L171.5 442.8 L173.1 441.2 L174.7 441.9 L176.2 440.5 L177.8 441.9 L179.4 442.4 L181.0 441.2 L182.6 443.5 L184.2 441.2 L185.8 441.2 L187.4 442.4 L189.0 444.2 L190.6 443.5 L192.1 442.4 L193.7 442.8 L195.3 441.2 L196.9 438.8 L198.5 437.6 L200.1 442.4 L201.7 442.4 L203.3 442.4 L204.9 441.9 L206.5 441.2 L208.1 430.6 L209.6 440.0 L211.2 440.0 L212.8 433.4 L214.4 441.2 L216.0 444.2 L217.6 445.9 L219.2 446.6 L220.8 445.2 L222.4 442.4 L224.0 437.6 L225.5 441.2 L227.1 444.7 L228.7 443.5 L230.3 442.8 L231.9 444.2 L233.5 438.8 L235.1 442.4 L236.7 444.2 L238.3 446.6 L239.9 446.6 L241.4 444.2 L243.0 445.9 L244.6 443.5 L246.2 446.6 L247.8 443.5 L249.4 447.1 L251.0 449.4 L252.6 445.9 L254.2 442.4 L255.8 444.2 L257.3 445.2 L258.9 443.5 L260.5 441.9 L262.1 442.8 L263.7 444.7 L265.3 441.9 L266.9 443.5 L268.5 448.9 L270.1 447.5 L271.7 444.7 L273.2 449.4 L274.8 446.6 L276.4 443.5 L278.0 443.5 L279.6 441.2 L281.2 442.4 L282.8 441.9 L284.4 443.5 L286.0 442.8 L287.6 444.2 L289.2 444.2 L290.7 442.8 L292.3 445.9 L293.9 445.2 L295.5 443.5 L297.1 446.6 L298.7 445.9 L300.3 442.8 L301.9 443.5 L303.5 441.2 L305.1 441.2 L306.6 443.5 L308.2 444.2 L309.8 444.7 L311.4 442.4 L313.0 443.5 L314.6 444.7 L316.2 445.2 L317.8 445.9 L319.4 445.9 L321.0 445.2 L322.5 444.7 L324.1 447.1 L325.7 460.0 L327.3 450.6 L328.9 447.5 L330.5 447.1 L332.1 445.9 L333.7 447.1 L335.3 446.6 L336.9 447.5 L338.4 448.2 L340.0 449.4 L341.6 447.1 L343.2 445.9 L344.8 445.9 L346.4 444.7 L348.0 442.8 L349.6 440.0 L351.2 444.2 L352.8 445.2 L354.3 445.9 L355.9 449.4 L357.5 460.0 L359.1 448.2 L360.7 440.0 L362.3 445.9 L363.9 448.2 L365.5 444.2 L367.1 447.1 L368.7 448.9 L370.3 445.9 L371.8 444.7 L373.4 445.2 L375.0 441.2 L376.6 443.5 L378.2 442.4 L379.8 428.2 L381.4 442.4 L383.0 441.2 L384.6 443.5 L386.2 442.8 L387.7 437.6 L389.3 443.5 L390.9 450.6 L392.5 448.9 L394.1 447.1 L395.7 445.9 L397.3 445.2 L398.9 447.5 L400.5 449.4 L402.1 445.9 L403.6 446.6 L405.2 445.9 L406.8 450.6 L408.4 447.1 L410.0 443.5 L411.6 450.6 L413.2 453.6 L414.8 448.9 L416.4 447.5 L418.0 450.6 L419.5 445.9 L421.1 448.2 L422.7 445.9 L424.3 449.4 L425.9 447.1 L427.5 444.7 L429.1 447.1 L430.7 438.8 L432.3 443.5 L433.9 457.6 L435.4 444.7 L437.0 447.1 L438.6 445.9 L440.2 457.6 L441.8 447.1 L443.4 441.2 L445.0 442.4 L446.6 444.2 L448.2 443.5 L449.8 442.8 L451.4 445.9 L452.9 444.2 L454.5 441.9 L456.1 446.6 L457.7 445.9 L459.3 442.4 L460.9 445.2 L462.5 446.6 L464.1 448.2 L465.7 445.9 L467.3 444.7 L468.8 443.5 L470.4 444.2 L472.0 445.2 L473.6 442.4 L475.2 447.5 L476.8 447.1 L478.4 441.2 L480.0 445.9 L481.6 436.5 L483.2 441.2 L484.7 447.1 L486.3 449.4 L487.9 443.5 L489.5 448.2 L491.1 445.2 L492.7 448.9 L494.3 432.9 L495.9 447.5 L497.5 450.6 L499.1 449.9 L500.6 444.7 L502.2 440.0 L503.8 442.8 L505.4 444.7 L507.0 446.6 L508.6 447.1 L510.2 444.2 L511.8 443.5 L513.4 447.5 L515.0 443.5 L516.5 450.6 L518.1 451.8 L519.7 444.2 L521.3 441.2 L522.9 444.7 L524.5 445.9 L526.1 446.6 L527.7 448.2 L529.3 446.6 L530.9 445.9 L532.5 447.5 L534.0 441.2 L535.6 445.2 L537.2 443.5 L538.8 445.9 L540.4 445.2 L542.0 444.7 L543.6 446.6 L545.2 445.2 L546.8 442.4 L548.4 444.7 L549.9 446.6 L551.5 441.9 L553.1 442.8 L554.7 443.5 L556.3 442.8 L557.9 442.4 L559.5 441.9 L561.1 442.8 L562.7 441.2 L564.3 445.9 L565.8 443.5 L567.4 440.0 L569.0 442.4 L570.6 441.2 L572.2 443.5 L573.8 441.2 L575.4 448.2 L577.0 457.6 L578.6 444.7 L580.2 441.2 L581.7 444.7 L583.3 448.2 L584.9 446.6 L586.5 444.7 L588.1 445.9 L589.7 438.8 L591.3 442.4 L592.9 444.7 L594.5 442.4 L596.1 442.4 L597.7 443.5 L599.2 438.8 L600.8 445.9 L602.4 443.5 L604.0 442.4 L605.6 442.4 L607.2 441.2 L608.8 442.4 L610.4 450.6 L612.0 445.9 L613.6 442.4 L615.1 421.2 L616.7 441.2 L618.3 444.7 L619.9 446.6 L621.5 444.7 L623.1 440.0 L624.7 443.5 L626.3 445.9 L627.9 447.1 L629.5 442.4 L631.0 445.2 L632.6 441.2 L634.2 443.5 L635.8 442.4 L637.4 446.6 L639.0 450.6 L640.6 444.7 L642.2 436.5 L643.8 444.7 L645.4 450.6 L646.9 445.9 L648.5 442.4 L650.1 443.5 L651.7 445.9 L653.3 444.7 L654.9 448.9 L656.5 448.2 L658.1 447.1 L659.7 445.2 L661.3 443.5 L662.8 444.2 L664.4 445.9 L666.0 445.2 L667.6 445.9 L669.2 444.7 L670.8 447.1 L672.4 443.5 L674.0 437.6 L675.6 452.9 L677.2 448.2 L678.8 450.6 L680.3 447.1 L681.9 449.4 L683.5 445.9 L685.1 456.5 L686.7 443.5 L688.3 450.6 L689.9 437.6 L691.5 444.7 L693.1 452.9 L694.7 437.6 L696.2 443.5 L697.8 448.2 L699.4 445.2 L701.0 446.6 L702.6 447.1 L704.2 448.2 L705.8 447.5 L707.4 462.4 L709.0 445.9 L710.6 443.5 L712.1 444.2 L713.7 445.2 L715.3 446.6 L716.9 445.9 L718.5 448.9 L720.1 449.4 L721.7 448.2 L723.3 449.9 L724.9 448.9 L726.5 447.1 L728.0 435.3 L729.6 445.9 L731.2 445.2 L732.8 444.7 L734.4 446.6 L736.0 443.5 L737.6 445.9 L739.2 444.2 L740.8 442.4 L742.4 451.8 L743.9 448.2 L745.5 469.4 L747.1 447.1 L748.7 436.5 L750.3 441.2 L751.9 445.9 L753.5 447.1 L755.1 445.9 L756.7 448.2 L758.3 454.1 L759.9 450.6 L761.4 444.7 L763.0 442.4 L764.6 449.4 L766.2 447.1 L767.8 444.7 L769.4 442.4 L771.0 442.8 L772.6 445.2 L774.2 445.9 L775.8 448.2 L777.3 451.8 L778.9 440.0 L780.5 446.6 L782.1 442.4 L783.7 447.1 L785.3 445.9 L786.9 448.2 L788.5 447.1 L790.1 457.6 L791.7 445.9 L793.2 437.6 L794.8 456.5 L796.4 442.4 L798.0 448.2 L799.6 447.1 L801.2 445.9 L802.8 441.2 L804.4 443.5 L806.0 451.8 L807.6 442.4 L809.1 445.9 L810.7 443.5 L812.3 441.2 L813.9 443.5 L815.5 435.3 L817.1 471.8 L818.7 454.1 L820.3 442.4 L821.9 441.2 L823.5 445.9 L825.0 448.2 L826.6 445.9 L828.2 450.6 L829.8 447.1 L831.4 450.6 L833.0 448.2" stroke="#000" stroke-width="2.78" stroke-linecap="square"/>
</g>
<rect x="119.5" y="39.5" width="714.00" height="726.00" fill="none" stroke="#000" stroke-width="1.11" stroke-linejoin="miter"/>
<g stroke="#000" stroke-width="1.11">
<line x1="119.50" y1="765.5" x2="119.50" y2="771.50"/>
<line x1="199.50" y1="765.5" x2="199.50" y2="771.50"/>
<line x1="278.50" y1="765.5" x2="278.50" y2="771.50"/>
<line x1="358.50" y1="765.5" x2="358.50" y2="771.50"/>
<line x1="437.50" y1="765.5" x2="437.50" y2="771.50"/>
<line x1="517.50" y1="765.5" x2="517.50" y2="771.50"/>
<line x1="596.50" y1="765.5" x2="596.50" y2="771.50"/>
<line x1="676.50" y1="765.5" x2="676.50" y2="771.50"/>
<line x1="755.50" y1="765.5" x2="755.50" y2="771.50"/>
<line x1="119.5" y1="703.50" x2="113.40" y2="703.50"/>
<line x1="119.5" y1="621.50" x2="113.40" y2="621.50"/>
<line x1="119.5" y1="540.50" x2="113.40" y2="540.50"/>
<line x1="119.5" y1="458.50" x2="113.40" y2="458.50"/>
<line x1="119.5" y1="377.50" x2="113.40" y2="377.50"/>
<line x1="119.5" y1="296.50" x2="113.40" y2="296.50"/>
<line x1="119.5" y1="214.50" x2="113.40" y2="214.50"/>
<line x1="119.5" y1="133.50" x2="113.40" y2="133.50"/>
<line x1="119.5" y1="51.50" x2="113.40" y2="51.50"/>
</g>
<g font-family="'DejaVu Sans', 'Liberation Sans', sans-serif" font-size="17.6px" fill="#000">
<text transform="translate(119.00 791.3) scale(0.905 1)" text-anchor="middle">0</text>
<text transform="translate(198.51 791.3) scale(0.905 1)" text-anchor="middle">50</text>
<text transform="translate(278.02 791.3) scale(0.905 1)" text-anchor="middle">100</text>
<text transform="translate(357.53 791.3) scale(0.905 1)" text-anchor="middle">150</text>
<text transform="translate(437.04 791.3) scale(0.905 1)" text-anchor="middle">200</text>
<text transform="translate(516.55 791.3) scale(0.905 1)" text-anchor="middle">250</text>
<text transform="translate(596.06 791.3) scale(0.905 1)" text-anchor="middle">300</text>
<text transform="translate(675.57 791.3) scale(0.905 1)" text-anchor="middle">350</text>
<text transform="translate(755.08 791.3) scale(0.905 1)" text-anchor="middle">400</text>
<text transform="translate(106.1 710.40) scale(0.932 1)" text-anchor="end">−0.00075</text>
<text transform="translate(106.1 628.40) scale(0.932 1)" text-anchor="end">−0.00050</text>
<text transform="translate(106.1 547.40) scale(0.932 1)" text-anchor="end">−0.00025</text>
<text transform="translate(106.1 465.40) scale(0.932 1)" text-anchor="end">0.00000</text>
<text transform="translate(106.1 384.40) scale(0.932 1)" text-anchor="end">0.00025</text>
<text transform="translate(106.1 303.40) scale(0.932 1)" text-anchor="end">0.00050</text>
<text transform="translate(106.1 221.40) scale(0.932 1)" text-anchor="end">0.00075</text>
<text transform="translate(106.1 140.40) scale(0.932 1)" text-anchor="end">0.00100</text>
<text transform="translate(106.1 58.40) scale(0.932 1)" text-anchor="end">0.00125</text>
<text transform="translate(476.0 816.2) scale(0.944 1)" text-anchor="middle">Binned row index</text>
<text transform="translate(13.2 403.1) rotate(-90) scale(0.944 1)" text-anchor="middle">HCHO vertical column [mol m⁻²]</text>
</g>
<rect x="119.0" y="17.0" width="714.0" height="22.50" rx="2.3" ry="2.3" fill="#fff" stroke="#d6d6d6" stroke-width="1.39"/>
<line x1="118.94" y1="39.5" x2="834.06" y2="39.5" stroke="#767676" stroke-width="1.11"/>
<g font-family="'DejaVu Sans', 'Liberation Sans', sans-serif" font-size="11.57px" fill="#000">
<line x1="124.0" y1="27.3" x2="147.14" y2="27.3" stroke="rgb(198,198,255)" stroke-width="0.78" stroke-dasharray="3.11 1.01"/>
<text x="156.40" y="32.1">1-99%</text>
<line x1="278.4" y1="27.3" x2="301.54" y2="27.3" stroke="rgb(160,160,255)" stroke-width="1.00" stroke-dasharray="4.00 1.30"/>
<text x="311.60" y="32.1">5-95%</text>
<line x1="432.5" y1="27.3" x2="455.64" y2="27.3" stroke="rgb(125,125,255)" stroke-width="1.53" stroke-dasharray="6.11 1.99"/>
<text x="464.40" y="32.1">10-90%</text>
<line x1="593.1" y1="27.3" x2="616.24" y2="27.3" stroke="rgb(105,105,255)" stroke-width="1.93" stroke-dasharray="7.72 2.51"/>
<text x="625.60" y="32.1">25-75%</text>
<line x1="754.4" y1="27.3" x2="777.54" y2="27.3" stroke="#000" stroke-width="2.78" stroke-linecap="square"/>
<text x="786.30" y="32.1">Median</text>
</g>
</svg>
</body></html>
